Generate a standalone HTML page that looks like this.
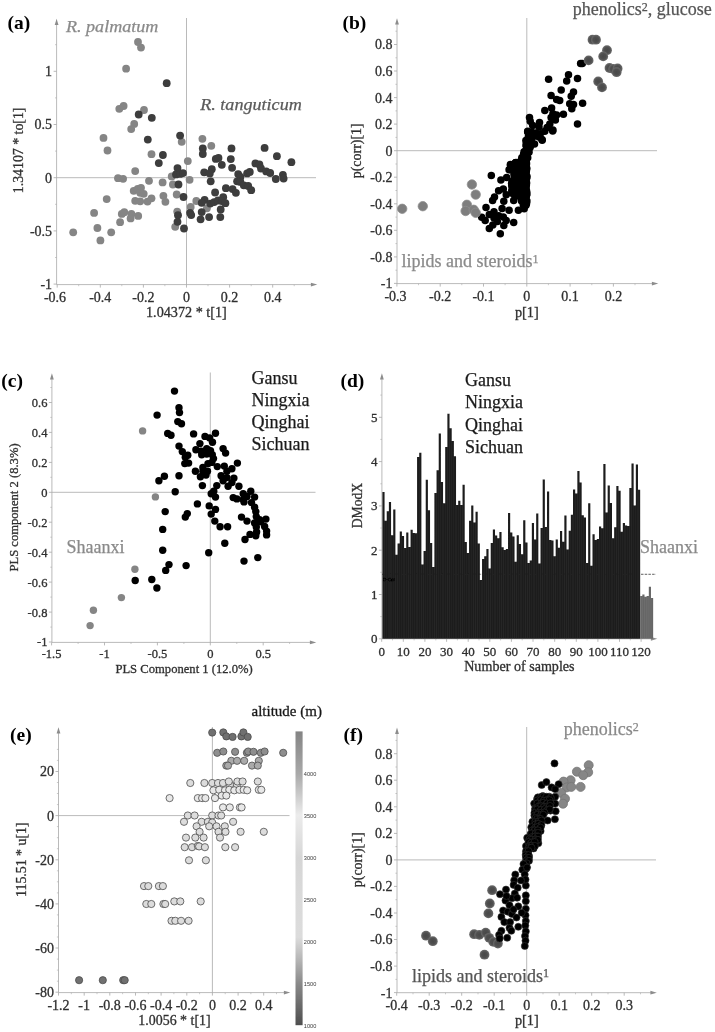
<!DOCTYPE html>
<html><head><meta charset="utf-8"><title>Figure</title>
<style>
html,body{margin:0;padding:0;background:#fff;}
body{width:715px;height:1032px;overflow:hidden;font-family:"Liberation Serif",serif;}
svg{display:block;font-family:"Liberation Serif",serif;}
</style></head><body>
<svg width="715" height="1032" viewBox="0 0 715 1032">
<rect width="715" height="1032" fill="#fff"/>
<defs><filter id="soft" x="0" y="0" width="715" height="1032" filterUnits="userSpaceOnUse"><feGaussianBlur stdDeviation="0.45"/></filter></defs>
<g filter="url(#soft)">
<text x="7.6" y="29.1" font-size="19.5" text-anchor="start" fill="#000" font-weight="bold">(a)</text>
<line x1="56.6" y1="23.5" x2="56.6" y2="284.6" stroke="#a8a8a8" stroke-width="0.8" />
<path d="M54.7 25.1 L56.6 18.7 L58.5 25.1 Z" fill="#8c8c8c"/>
<line x1="53.6" y1="71.3" x2="56.6" y2="71.3" stroke="#a8a8a8" stroke-width="0.8" />
<text x="52.1" y="76.2" font-size="14" text-anchor="end" fill="#303030" stroke="#303030" stroke-width="0.3">1</text>
<line x1="53.6" y1="124.5" x2="56.6" y2="124.5" stroke="#a8a8a8" stroke-width="0.8" />
<text x="52.1" y="129.4" font-size="14" text-anchor="end" fill="#303030" stroke="#303030" stroke-width="0.3">0.5</text>
<line x1="53.6" y1="177.7" x2="56.6" y2="177.7" stroke="#a8a8a8" stroke-width="0.8" />
<text x="52.1" y="182.6" font-size="14" text-anchor="end" fill="#303030" stroke="#303030" stroke-width="0.3">0</text>
<line x1="53.6" y1="230.9" x2="56.6" y2="230.9" stroke="#a8a8a8" stroke-width="0.8" />
<text x="52.1" y="235.8" font-size="14" text-anchor="end" fill="#303030" stroke="#303030" stroke-width="0.3">-0.5</text>
<line x1="53.6" y1="284.1" x2="56.6" y2="284.1" stroke="#a8a8a8" stroke-width="0.8" />
<text x="52.1" y="289.0" font-size="14" text-anchor="end" fill="#303030" stroke="#303030" stroke-width="0.3">-1</text>
<line x1="55.0" y1="257.5" x2="56.6" y2="257.5" stroke="#a8a8a8" stroke-width="0.6" />
<line x1="55.0" y1="204.3" x2="56.6" y2="204.3" stroke="#a8a8a8" stroke-width="0.6" />
<line x1="55.0" y1="151.1" x2="56.6" y2="151.1" stroke="#a8a8a8" stroke-width="0.6" />
<line x1="55.0" y1="97.9" x2="56.6" y2="97.9" stroke="#a8a8a8" stroke-width="0.6" />
<line x1="55.0" y1="44.7" x2="56.6" y2="44.7" stroke="#a8a8a8" stroke-width="0.6" />
<line x1="56.6" y1="284.6" x2="312.5" y2="284.6" stroke="#a8a8a8" stroke-width="0.8" />
<path d="M310.9 282.7 L317.3 284.6 L310.9 286.5 Z" fill="#8c8c8c"/>
<line x1="57.2" y1="284.6" x2="57.2" y2="287.6" stroke="#a8a8a8" stroke-width="0.8" />
<text x="55.0" y="301.6" font-size="14" text-anchor="middle" fill="#303030" stroke="#303030" stroke-width="0.3">-0.6</text>
<line x1="100.3" y1="284.6" x2="100.3" y2="287.6" stroke="#a8a8a8" stroke-width="0.8" />
<text x="100.3" y="301.6" font-size="14" text-anchor="middle" fill="#303030" stroke="#303030" stroke-width="0.3">-0.4</text>
<line x1="143.4" y1="284.6" x2="143.4" y2="287.6" stroke="#a8a8a8" stroke-width="0.8" />
<text x="143.4" y="301.6" font-size="14" text-anchor="middle" fill="#303030" stroke="#303030" stroke-width="0.3">-0.2</text>
<line x1="186.5" y1="284.6" x2="186.5" y2="287.6" stroke="#a8a8a8" stroke-width="0.8" />
<text x="186.5" y="301.6" font-size="14" text-anchor="middle" fill="#303030" stroke="#303030" stroke-width="0.3">0</text>
<line x1="229.6" y1="284.6" x2="229.6" y2="287.6" stroke="#a8a8a8" stroke-width="0.8" />
<text x="229.6" y="301.6" font-size="14" text-anchor="middle" fill="#303030" stroke="#303030" stroke-width="0.3">0.2</text>
<line x1="272.7" y1="284.6" x2="272.7" y2="287.6" stroke="#a8a8a8" stroke-width="0.8" />
<text x="272.7" y="301.6" font-size="14" text-anchor="middle" fill="#303030" stroke="#303030" stroke-width="0.3">0.4</text>
<line x1="78.7" y1="284.6" x2="78.7" y2="286.2" stroke="#a8a8a8" stroke-width="0.6" />
<line x1="121.8" y1="284.6" x2="121.8" y2="286.2" stroke="#a8a8a8" stroke-width="0.6" />
<line x1="164.9" y1="284.6" x2="164.9" y2="286.2" stroke="#a8a8a8" stroke-width="0.6" />
<line x1="208.0" y1="284.6" x2="208.0" y2="286.2" stroke="#a8a8a8" stroke-width="0.6" />
<line x1="251.2" y1="284.6" x2="251.2" y2="286.2" stroke="#a8a8a8" stroke-width="0.6" />
<line x1="294.2" y1="284.6" x2="294.2" y2="286.2" stroke="#a8a8a8" stroke-width="0.6" />
<line x1="56.6" y1="177.7" x2="316.0" y2="177.7" stroke="#a8a8a8" stroke-width="0.8" />
<line x1="186.5" y1="18.0" x2="186.5" y2="284.6" stroke="#a8a8a8" stroke-width="0.8" />
<text x="22.6" y="150.4" font-size="14" text-anchor="middle" fill="#303030" stroke="#303030" stroke-width="0.3" transform="rotate(-90 22.6 150.4)" textLength="85.6" lengthAdjust="spacingAndGlyphs">1.34107 * to[1]</text>
<text x="186.4" y="316.9" font-size="14" text-anchor="middle" fill="#303030" stroke="#303030" stroke-width="0.3" textLength="80.8" lengthAdjust="spacingAndGlyphs">1.04372 * t[1]</text>
<text x="66.0" y="31.5" font-size="16.5" text-anchor="start" fill="#8a8a8a" font-style="italic" stroke="#8a8a8a" stroke-width="0.25" textLength="92.4" lengthAdjust="spacingAndGlyphs">R. palmatum</text>
<text x="200.2" y="110.0" font-size="16.5" text-anchor="start" fill="#5a5a5a" font-style="italic" stroke="#5a5a5a" stroke-width="0.25" textLength="101.6" lengthAdjust="spacingAndGlyphs">R. tanguticum</text>
<g fill="#858585">
<circle cx="138.0" cy="42.0" r="3.9"/>
<circle cx="141.0" cy="47.6" r="3.9"/>
<circle cx="126.1" cy="68.7" r="3.9"/>
<circle cx="119.3" cy="108.8" r="3.9"/>
<circle cx="123.6" cy="106.0" r="3.9"/>
<circle cx="144.0" cy="110.0" r="3.9"/>
<circle cx="134.2" cy="123.9" r="3.9"/>
<circle cx="131.2" cy="129.1" r="3.9"/>
<circle cx="103.5" cy="137.9" r="3.9"/>
<circle cx="107.5" cy="150.5" r="3.9"/>
<circle cx="151.5" cy="154.2" r="3.9"/>
<circle cx="181.7" cy="141.8" r="3.9"/>
<circle cx="135.2" cy="171.1" r="3.9"/>
<circle cx="118.0" cy="178.2" r="3.9"/>
<circle cx="123.1" cy="178.8" r="3.9"/>
<circle cx="149.0" cy="180.8" r="3.9"/>
<circle cx="162.6" cy="182.4" r="3.9"/>
<circle cx="171.7" cy="176.4" r="3.9"/>
<circle cx="172.9" cy="184.5" r="3.9"/>
<circle cx="133.7" cy="190.8" r="3.9"/>
<circle cx="137.7" cy="188.8" r="3.9"/>
<circle cx="141.0" cy="187.8" r="3.9"/>
<circle cx="140.2" cy="192.8" r="3.9"/>
<circle cx="143.7" cy="193.8" r="3.9"/>
<circle cx="106.7" cy="199.1" r="3.9"/>
<circle cx="135.2" cy="200.8" r="3.9"/>
<circle cx="140.2" cy="201.3" r="3.9"/>
<circle cx="147.5" cy="201.6" r="3.9"/>
<circle cx="151.5" cy="198.3" r="3.9"/>
<circle cx="163.4" cy="195.8" r="3.9"/>
<circle cx="165.4" cy="201.8" r="3.9"/>
<circle cx="176.7" cy="194.5" r="3.9"/>
<circle cx="177.2" cy="211.6" r="3.9"/>
<circle cx="94.1" cy="212.9" r="3.9"/>
<circle cx="121.8" cy="213.9" r="3.9"/>
<circle cx="124.3" cy="212.2" r="3.9"/>
<circle cx="131.4" cy="213.9" r="3.9"/>
<circle cx="138.2" cy="215.9" r="3.9"/>
<circle cx="130.6" cy="218.4" r="3.9"/>
<circle cx="120.1" cy="222.2" r="3.9"/>
<circle cx="97.4" cy="228.0" r="3.9"/>
<circle cx="111.2" cy="232.3" r="3.9"/>
<circle cx="73.2" cy="232.3" r="3.9"/>
<circle cx="100.4" cy="240.4" r="3.9"/>
<circle cx="175.2" cy="226.8" r="3.9"/>
<circle cx="202.4" cy="138.8" r="3.9"/>
<circle cx="211.3" cy="145.8" r="3.9"/>
<circle cx="187.8" cy="161.1" r="3.9"/>
<circle cx="189.6" cy="179.8" r="3.9"/>
<circle cx="196.3" cy="201.0" r="3.9"/>
<circle cx="190.7" cy="207.0" r="3.9"/>
<circle cx="206.9" cy="208.3" r="3.9"/>
</g>
<g fill="#3c3c3c">
<circle cx="166.7" cy="83.2" r="3.9"/>
<circle cx="138.7" cy="114.5" r="3.9"/>
<circle cx="151.8" cy="117.8" r="3.9"/>
<circle cx="147.8" cy="139.6" r="3.9"/>
<circle cx="180.1" cy="135.6" r="3.9"/>
<circle cx="162.9" cy="155.0" r="3.9"/>
<circle cx="158.8" cy="163.1" r="3.9"/>
<circle cx="177.5" cy="168.1" r="3.9"/>
<circle cx="176.0" cy="174.4" r="3.9"/>
<circle cx="180.2" cy="173.9" r="3.9"/>
<circle cx="183.0" cy="173.1" r="3.9"/>
<circle cx="178.5" cy="184.5" r="3.9"/>
<circle cx="183.5" cy="197.0" r="3.9"/>
<circle cx="178.0" cy="215.2" r="3.9"/>
<circle cx="177.5" cy="221.8" r="3.9"/>
<circle cx="184.0" cy="228.5" r="3.9"/>
<circle cx="202.8" cy="148.4" r="3.9"/>
<circle cx="202.8" cy="154.0" r="3.9"/>
<circle cx="231.5" cy="148.4" r="3.9"/>
<circle cx="264.6" cy="147.9" r="3.9"/>
<circle cx="276.9" cy="156.2" r="3.9"/>
<circle cx="291.4" cy="162.2" r="3.9"/>
<circle cx="215.8" cy="158.9" r="3.9"/>
<circle cx="218.5" cy="158.0" r="3.9"/>
<circle cx="230.8" cy="159.1" r="3.9"/>
<circle cx="221.8" cy="164.8" r="3.9"/>
<circle cx="232.1" cy="167.8" r="3.9"/>
<circle cx="255.4" cy="163.4" r="3.9"/>
<circle cx="259.4" cy="164.5" r="3.9"/>
<circle cx="261.0" cy="168.5" r="3.9"/>
<circle cx="266.2" cy="171.4" r="3.9"/>
<circle cx="270.2" cy="173.0" r="3.9"/>
<circle cx="211.8" cy="169.2" r="3.9"/>
<circle cx="204.2" cy="172.3" r="3.9"/>
<circle cx="209.8" cy="173.4" r="3.9"/>
<circle cx="238.2" cy="174.1" r="3.9"/>
<circle cx="240.4" cy="177.0" r="3.9"/>
<circle cx="247.1" cy="173.4" r="3.9"/>
<circle cx="249.8" cy="171.9" r="3.9"/>
<circle cx="275.8" cy="179.0" r="3.9"/>
<circle cx="282.9" cy="174.8" r="3.9"/>
<circle cx="283.6" cy="178.6" r="3.9"/>
<circle cx="210.7" cy="181.3" r="3.9"/>
<circle cx="237.1" cy="181.3" r="3.9"/>
<circle cx="240.4" cy="181.9" r="3.9"/>
<circle cx="243.8" cy="185.3" r="3.9"/>
<circle cx="248.2" cy="186.0" r="3.9"/>
<circle cx="251.2" cy="190.2" r="3.9"/>
<circle cx="225.9" cy="188.2" r="3.9"/>
<circle cx="232.6" cy="189.1" r="3.9"/>
<circle cx="235.9" cy="192.8" r="3.9"/>
<circle cx="215.1" cy="192.5" r="3.9"/>
<circle cx="223.2" cy="197.2" r="3.9"/>
<circle cx="204.6" cy="199.8" r="3.9"/>
<circle cx="201.7" cy="202.8" r="3.9"/>
<circle cx="210.2" cy="203.6" r="3.9"/>
<circle cx="214.2" cy="202.1" r="3.9"/>
<circle cx="218.0" cy="200.5" r="3.9"/>
<circle cx="221.8" cy="201.0" r="3.9"/>
<circle cx="225.4" cy="203.2" r="3.9"/>
<circle cx="220.7" cy="209.5" r="3.9"/>
<circle cx="201.7" cy="212.1" r="3.9"/>
<circle cx="190.1" cy="212.8" r="3.9"/>
<circle cx="191.2" cy="215.1" r="3.9"/>
<circle cx="200.6" cy="219.3" r="3.9"/>
<circle cx="209.1" cy="217.1" r="3.9"/>
<circle cx="220.3" cy="217.1" r="3.9"/>
</g>
<text x="342.5" y="29.1" font-size="19.5" text-anchor="start" fill="#000" font-weight="bold">(b)</text>
<line x1="397.0" y1="23.0" x2="397.0" y2="283.6" stroke="#a8a8a8" stroke-width="0.8" />
<path d="M395.1 24.6 L397.0 18.2 L398.9 24.6 Z" fill="#8c8c8c"/>
<line x1="394.0" y1="44.5" x2="397.0" y2="44.5" stroke="#a8a8a8" stroke-width="0.8" />
<text x="392.5" y="49.4" font-size="14" text-anchor="end" fill="#303030" stroke="#303030" stroke-width="0.3">0.8</text>
<line x1="394.0" y1="71.0" x2="397.0" y2="71.0" stroke="#a8a8a8" stroke-width="0.8" />
<text x="392.5" y="75.9" font-size="14" text-anchor="end" fill="#303030" stroke="#303030" stroke-width="0.3">0.6</text>
<line x1="394.0" y1="97.6" x2="397.0" y2="97.6" stroke="#a8a8a8" stroke-width="0.8" />
<text x="392.5" y="102.5" font-size="14" text-anchor="end" fill="#303030" stroke="#303030" stroke-width="0.3">0.4</text>
<line x1="394.0" y1="124.1" x2="397.0" y2="124.1" stroke="#a8a8a8" stroke-width="0.8" />
<text x="392.5" y="129.0" font-size="14" text-anchor="end" fill="#303030" stroke="#303030" stroke-width="0.3">0.2</text>
<line x1="394.0" y1="150.7" x2="397.0" y2="150.7" stroke="#a8a8a8" stroke-width="0.8" />
<text x="392.5" y="155.6" font-size="14" text-anchor="end" fill="#303030" stroke="#303030" stroke-width="0.3">0</text>
<line x1="394.0" y1="177.2" x2="397.0" y2="177.2" stroke="#a8a8a8" stroke-width="0.8" />
<text x="392.5" y="182.2" font-size="14" text-anchor="end" fill="#303030" stroke="#303030" stroke-width="0.3">-0.2</text>
<line x1="394.0" y1="203.8" x2="397.0" y2="203.8" stroke="#a8a8a8" stroke-width="0.8" />
<text x="392.5" y="208.7" font-size="14" text-anchor="end" fill="#303030" stroke="#303030" stroke-width="0.3">-0.4</text>
<line x1="394.0" y1="230.3" x2="397.0" y2="230.3" stroke="#a8a8a8" stroke-width="0.8" />
<text x="392.5" y="235.2" font-size="14" text-anchor="end" fill="#303030" stroke="#303030" stroke-width="0.3">-0.6</text>
<line x1="394.0" y1="256.9" x2="397.0" y2="256.9" stroke="#a8a8a8" stroke-width="0.8" />
<text x="392.5" y="261.8" font-size="14" text-anchor="end" fill="#303030" stroke="#303030" stroke-width="0.3">-0.8</text>
<line x1="394.0" y1="283.4" x2="397.0" y2="283.4" stroke="#a8a8a8" stroke-width="0.8" />
<text x="392.5" y="288.3" font-size="14" text-anchor="end" fill="#303030" stroke="#303030" stroke-width="0.3">-1</text>
<line x1="395.4" y1="270.2" x2="397.0" y2="270.2" stroke="#a8a8a8" stroke-width="0.6" />
<line x1="395.4" y1="243.6" x2="397.0" y2="243.6" stroke="#a8a8a8" stroke-width="0.6" />
<line x1="395.4" y1="217.1" x2="397.0" y2="217.1" stroke="#a8a8a8" stroke-width="0.6" />
<line x1="395.4" y1="190.5" x2="397.0" y2="190.5" stroke="#a8a8a8" stroke-width="0.6" />
<line x1="395.4" y1="164.0" x2="397.0" y2="164.0" stroke="#a8a8a8" stroke-width="0.6" />
<line x1="395.4" y1="137.4" x2="397.0" y2="137.4" stroke="#a8a8a8" stroke-width="0.6" />
<line x1="395.4" y1="110.9" x2="397.0" y2="110.9" stroke="#a8a8a8" stroke-width="0.6" />
<line x1="395.4" y1="84.3" x2="397.0" y2="84.3" stroke="#a8a8a8" stroke-width="0.6" />
<line x1="395.4" y1="57.8" x2="397.0" y2="57.8" stroke="#a8a8a8" stroke-width="0.6" />
<line x1="395.4" y1="31.2" x2="397.0" y2="31.2" stroke="#a8a8a8" stroke-width="0.6" />
<line x1="397.0" y1="283.6" x2="653.5" y2="283.6" stroke="#a8a8a8" stroke-width="0.8" />
<path d="M651.9 281.7 L658.3 283.6 L651.9 285.5 Z" fill="#8c8c8c"/>
<line x1="396.9" y1="283.6" x2="396.9" y2="286.6" stroke="#a8a8a8" stroke-width="0.8" />
<text x="395.5" y="300.6" font-size="14" text-anchor="middle" fill="#303030" stroke="#303030" stroke-width="0.3">-0.3</text>
<line x1="440.2" y1="283.6" x2="440.2" y2="286.6" stroke="#a8a8a8" stroke-width="0.8" />
<text x="440.2" y="300.6" font-size="14" text-anchor="middle" fill="#303030" stroke="#303030" stroke-width="0.3">-0.2</text>
<line x1="483.5" y1="283.6" x2="483.5" y2="286.6" stroke="#a8a8a8" stroke-width="0.8" />
<text x="483.5" y="300.6" font-size="14" text-anchor="middle" fill="#303030" stroke="#303030" stroke-width="0.3">-0.1</text>
<line x1="526.8" y1="283.6" x2="526.8" y2="286.6" stroke="#a8a8a8" stroke-width="0.8" />
<text x="526.8" y="300.6" font-size="14" text-anchor="middle" fill="#303030" stroke="#303030" stroke-width="0.3">0</text>
<line x1="570.1" y1="283.6" x2="570.1" y2="286.6" stroke="#a8a8a8" stroke-width="0.8" />
<text x="570.1" y="300.6" font-size="14" text-anchor="middle" fill="#303030" stroke="#303030" stroke-width="0.3">0.1</text>
<line x1="613.4" y1="283.6" x2="613.4" y2="286.6" stroke="#a8a8a8" stroke-width="0.8" />
<text x="613.4" y="300.6" font-size="14" text-anchor="middle" fill="#303030" stroke="#303030" stroke-width="0.3">0.2</text>
<line x1="418.5" y1="283.6" x2="418.5" y2="285.2" stroke="#a8a8a8" stroke-width="0.6" />
<line x1="461.8" y1="283.6" x2="461.8" y2="285.2" stroke="#a8a8a8" stroke-width="0.6" />
<line x1="505.1" y1="283.6" x2="505.1" y2="285.2" stroke="#a8a8a8" stroke-width="0.6" />
<line x1="548.4" y1="283.6" x2="548.4" y2="285.2" stroke="#a8a8a8" stroke-width="0.6" />
<line x1="591.8" y1="283.6" x2="591.8" y2="285.2" stroke="#a8a8a8" stroke-width="0.6" />
<line x1="635.0" y1="283.6" x2="635.0" y2="285.2" stroke="#a8a8a8" stroke-width="0.6" />
<line x1="397.0" y1="150.7" x2="657.0" y2="150.7" stroke="#a8a8a8" stroke-width="0.8" />
<line x1="526.8" y1="18.0" x2="526.8" y2="283.6" stroke="#a8a8a8" stroke-width="0.8" />
<text x="361.3" y="150.8" font-size="14" text-anchor="middle" fill="#303030" stroke="#303030" stroke-width="0.3" transform="rotate(-90 361.3 150.8)" textLength="55.0" lengthAdjust="spacingAndGlyphs">p(corr)[1]</text>
<text x="526.8" y="316.9" font-size="14" text-anchor="middle" fill="#303030" stroke="#303030" stroke-width="0.3" textLength="23.8" lengthAdjust="spacingAndGlyphs">p[1]</text>
<text x="572.8" y="14.9" font-size="18" text-anchor="start" fill="#555" stroke="#555" stroke-width="0.25">phenolics<tspan font-size="12" dy="-4.3">2</tspan><tspan dy="4.3">, glucose</tspan></text>
<text x="401.5" y="267.2" font-size="18" text-anchor="start" fill="#8a8a8a" stroke="#8a8a8a" stroke-width="0.25">lipids and steroids<tspan font-size="12" dy="-4.3">1</tspan></text>
<g fill="#050505">
<circle cx="580.6" cy="63.4" r="3.75"/>
<circle cx="582.3" cy="63.4" r="3.75"/>
<circle cx="548.6" cy="79.2" r="3.75"/>
<circle cx="568.5" cy="74.8" r="3.75"/>
<circle cx="577.5" cy="78.5" r="3.75"/>
<circle cx="566.7" cy="81.0" r="3.75"/>
<circle cx="561.2" cy="89.9" r="3.75"/>
<circle cx="573.5" cy="91.9" r="3.75"/>
<circle cx="551.1" cy="95.4" r="3.75"/>
<circle cx="571.2" cy="96.2" r="3.75"/>
<circle cx="556.6" cy="99.4" r="3.75"/>
<circle cx="559.7" cy="100.4" r="3.75"/>
<circle cx="569.7" cy="103.7" r="3.75"/>
<circle cx="573.5" cy="104.5" r="3.75"/>
<circle cx="582.6" cy="103.2" r="3.75"/>
<circle cx="571.8" cy="108.8" r="3.75"/>
<circle cx="551.6" cy="108.0" r="3.75"/>
<circle cx="544.8" cy="110.5" r="3.75"/>
<circle cx="552.9" cy="113.8" r="3.75"/>
<circle cx="556.6" cy="115.0" r="3.75"/>
<circle cx="563.4" cy="114.2" r="3.75"/>
<circle cx="551.1" cy="117.5" r="3.75"/>
<circle cx="555.4" cy="120.0" r="3.75"/>
<circle cx="577.5" cy="123.9" r="3.75"/>
<circle cx="529.5" cy="117.5" r="3.75"/>
<circle cx="530.2" cy="121.2" r="3.75"/>
<circle cx="539.5" cy="122.5" r="3.75"/>
<circle cx="549.8" cy="123.9" r="3.75"/>
<circle cx="532.7" cy="125.5" r="3.75"/>
<circle cx="539.0" cy="127.0" r="3.75"/>
<circle cx="547.1" cy="127.5" r="3.75"/>
<circle cx="552.9" cy="130.1" r="3.75"/>
<circle cx="527.7" cy="131.3" r="3.75"/>
<circle cx="531.5" cy="132.1" r="3.75"/>
<circle cx="536.0" cy="133.1" r="3.75"/>
<circle cx="540.3" cy="133.8" r="3.75"/>
<circle cx="544.8" cy="131.3" r="3.75"/>
<circle cx="528.4" cy="136.4" r="3.75"/>
<circle cx="533.5" cy="136.4" r="3.75"/>
<circle cx="539.0" cy="137.1" r="3.75"/>
<circle cx="542.0" cy="139.6" r="3.75"/>
<circle cx="527.2" cy="141.4" r="3.75"/>
<circle cx="531.5" cy="141.9" r="3.75"/>
<circle cx="534.5" cy="143.9" r="3.75"/>
<circle cx="526.4" cy="146.4" r="3.75"/>
<circle cx="530.2" cy="147.2" r="3.75"/>
<circle cx="525.2" cy="151.4" r="3.75"/>
<circle cx="529.0" cy="152.2" r="3.75"/>
<circle cx="524.4" cy="156.5" r="3.75"/>
<circle cx="527.7" cy="157.8" r="3.75"/>
<circle cx="523.9" cy="161.5" r="3.75"/>
<circle cx="526.4" cy="162.8" r="3.75"/>
<circle cx="510.6" cy="165.3" r="3.75"/>
<circle cx="515.6" cy="162.8" r="3.75"/>
<circle cx="522.7" cy="166.6" r="3.75"/>
<circle cx="525.2" cy="167.8" r="3.75"/>
<circle cx="510.4" cy="164.4" r="3.75"/>
<circle cx="516.0" cy="162.6" r="3.75"/>
<circle cx="509.7" cy="169.4" r="3.75"/>
<circle cx="491.3" cy="175.4" r="3.75"/>
<circle cx="500.9" cy="180.1" r="3.75"/>
<circle cx="498.6" cy="190.8" r="3.75"/>
<circle cx="494.5" cy="197.1" r="3.75"/>
<circle cx="492.6" cy="200.6" r="3.75"/>
<circle cx="503.8" cy="201.2" r="3.75"/>
<circle cx="513.7" cy="200.6" r="3.75"/>
<circle cx="486.0" cy="207.6" r="3.75"/>
<circle cx="502.1" cy="208.4" r="3.75"/>
<circle cx="509.1" cy="210.3" r="3.75"/>
<circle cx="518.4" cy="210.3" r="3.75"/>
<circle cx="524.2" cy="208.8" r="3.75"/>
<circle cx="494.0" cy="211.8" r="3.75"/>
<circle cx="489.3" cy="214.6" r="3.75"/>
<circle cx="481.7" cy="217.3" r="3.75"/>
<circle cx="485.2" cy="220.4" r="3.75"/>
<circle cx="494.0" cy="218.1" r="3.75"/>
<circle cx="498.6" cy="215.8" r="3.75"/>
<circle cx="503.3" cy="216.9" r="3.75"/>
<circle cx="506.2" cy="220.4" r="3.75"/>
<circle cx="513.7" cy="222.4" r="3.75"/>
<circle cx="503.8" cy="225.6" r="3.75"/>
<circle cx="492.8" cy="225.1" r="3.75"/>
<circle cx="489.3" cy="228.5" r="3.75"/>
<circle cx="500.3" cy="233.8" r="3.75"/>
<circle cx="497.4" cy="221.6" r="3.75"/>
<circle cx="510.8" cy="165.2" r="3.75"/>
<circle cx="515.5" cy="162.8" r="3.75"/>
<circle cx="509.1" cy="169.8" r="3.75"/>
<circle cx="506.7" cy="177.4" r="3.75"/>
<circle cx="503.3" cy="189.0" r="3.75"/>
<circle cx="506.2" cy="194.8" r="3.75"/>
<circle cx="527.7" cy="132.0" r="3.75"/>
<circle cx="542.2" cy="140.2" r="3.75"/>
<circle cx="552.7" cy="130.9" r="3.75"/>
<circle cx="527.7" cy="141.3" r="3.75"/>
<circle cx="525.9" cy="140.5" r="3.75"/>
<circle cx="528.5" cy="140.6" r="3.75"/>
<circle cx="526.5" cy="142.2" r="3.75"/>
<circle cx="528.0" cy="143.3" r="3.75"/>
<circle cx="526.0" cy="144.9" r="3.75"/>
<circle cx="529.4" cy="145.2" r="3.75"/>
<circle cx="526.8" cy="147.6" r="3.75"/>
<circle cx="528.9" cy="147.2" r="3.75"/>
<circle cx="526.5" cy="150.6" r="3.75"/>
<circle cx="528.7" cy="150.4" r="3.75"/>
<circle cx="524.1" cy="151.8" r="3.75"/>
<circle cx="526.7" cy="152.6" r="3.75"/>
<circle cx="523.6" cy="154.2" r="3.75"/>
<circle cx="526.8" cy="154.8" r="3.75"/>
<circle cx="521.8" cy="157.8" r="3.75"/>
<circle cx="524.2" cy="157.8" r="3.75"/>
<circle cx="526.2" cy="157.7" r="3.75"/>
<circle cx="521.4" cy="160.3" r="3.75"/>
<circle cx="524.4" cy="159.1" r="3.75"/>
<circle cx="525.8" cy="159.3" r="3.75"/>
<circle cx="519.8" cy="162.0" r="3.75"/>
<circle cx="521.7" cy="161.8" r="3.75"/>
<circle cx="523.9" cy="161.9" r="3.75"/>
<circle cx="526.1" cy="162.2" r="3.75"/>
<circle cx="519.2" cy="165.0" r="3.75"/>
<circle cx="521.8" cy="165.1" r="3.75"/>
<circle cx="524.4" cy="165.1" r="3.75"/>
<circle cx="526.5" cy="164.0" r="3.75"/>
<circle cx="517.2" cy="167.5" r="3.75"/>
<circle cx="519.7" cy="166.9" r="3.75"/>
<circle cx="521.8" cy="166.4" r="3.75"/>
<circle cx="524.4" cy="167.0" r="3.75"/>
<circle cx="526.0" cy="166.2" r="3.75"/>
<circle cx="517.2" cy="169.9" r="3.75"/>
<circle cx="518.5" cy="169.7" r="3.75"/>
<circle cx="521.4" cy="168.8" r="3.75"/>
<circle cx="523.6" cy="169.6" r="3.75"/>
<circle cx="526.8" cy="168.6" r="3.75"/>
<circle cx="514.5" cy="171.0" r="3.75"/>
<circle cx="517.0" cy="171.4" r="3.75"/>
<circle cx="519.6" cy="172.3" r="3.75"/>
<circle cx="521.5" cy="172.3" r="3.75"/>
<circle cx="523.6" cy="171.1" r="3.75"/>
<circle cx="526.4" cy="171.0" r="3.75"/>
<circle cx="513.9" cy="173.9" r="3.75"/>
<circle cx="516.9" cy="173.6" r="3.75"/>
<circle cx="518.5" cy="174.6" r="3.75"/>
<circle cx="521.2" cy="174.7" r="3.75"/>
<circle cx="524.5" cy="173.9" r="3.75"/>
<circle cx="526.2" cy="174.1" r="3.75"/>
<circle cx="514.5" cy="176.6" r="3.75"/>
<circle cx="516.8" cy="176.6" r="3.75"/>
<circle cx="519.7" cy="176.5" r="3.75"/>
<circle cx="521.4" cy="176.8" r="3.75"/>
<circle cx="523.5" cy="176.2" r="3.75"/>
<circle cx="527.0" cy="176.5" r="3.75"/>
<circle cx="514.4" cy="178.2" r="3.75"/>
<circle cx="516.6" cy="179.0" r="3.75"/>
<circle cx="518.4" cy="179.0" r="3.75"/>
<circle cx="521.7" cy="178.2" r="3.75"/>
<circle cx="524.1" cy="178.8" r="3.75"/>
<circle cx="526.6" cy="178.6" r="3.75"/>
<circle cx="512.2" cy="181.6" r="3.75"/>
<circle cx="513.6" cy="180.6" r="3.75"/>
<circle cx="516.9" cy="181.9" r="3.75"/>
<circle cx="518.8" cy="181.2" r="3.75"/>
<circle cx="521.6" cy="181.0" r="3.75"/>
<circle cx="523.7" cy="181.0" r="3.75"/>
<circle cx="526.1" cy="181.4" r="3.75"/>
<circle cx="511.6" cy="183.5" r="3.75"/>
<circle cx="514.7" cy="183.0" r="3.75"/>
<circle cx="516.8" cy="184.0" r="3.75"/>
<circle cx="518.8" cy="183.3" r="3.75"/>
<circle cx="521.9" cy="183.3" r="3.75"/>
<circle cx="523.5" cy="183.6" r="3.75"/>
<circle cx="526.6" cy="183.1" r="3.75"/>
<circle cx="511.7" cy="185.8" r="3.75"/>
<circle cx="514.8" cy="186.0" r="3.75"/>
<circle cx="517.2" cy="185.6" r="3.75"/>
<circle cx="518.9" cy="186.3" r="3.75"/>
<circle cx="522.0" cy="186.0" r="3.75"/>
<circle cx="523.5" cy="185.5" r="3.75"/>
<circle cx="526.3" cy="185.6" r="3.75"/>
<circle cx="512.3" cy="188.9" r="3.75"/>
<circle cx="513.9" cy="188.1" r="3.75"/>
<circle cx="517.1" cy="188.6" r="3.75"/>
<circle cx="519.5" cy="188.2" r="3.75"/>
<circle cx="521.0" cy="188.2" r="3.75"/>
<circle cx="524.3" cy="188.1" r="3.75"/>
<circle cx="526.1" cy="188.3" r="3.75"/>
<circle cx="511.8" cy="190.7" r="3.75"/>
<circle cx="514.9" cy="190.4" r="3.75"/>
<circle cx="516.0" cy="191.5" r="3.75"/>
<circle cx="519.6" cy="191.5" r="3.75"/>
<circle cx="521.4" cy="191.5" r="3.75"/>
<circle cx="524.5" cy="190.5" r="3.75"/>
<circle cx="526.6" cy="191.3" r="3.75"/>
<circle cx="512.1" cy="193.3" r="3.75"/>
<circle cx="514.0" cy="193.0" r="3.75"/>
<circle cx="516.3" cy="192.6" r="3.75"/>
<circle cx="519.2" cy="193.0" r="3.75"/>
<circle cx="521.9" cy="192.6" r="3.75"/>
<circle cx="524.5" cy="193.5" r="3.75"/>
<circle cx="526.9" cy="193.8" r="3.75"/>
<circle cx="514.9" cy="195.8" r="3.75"/>
<circle cx="516.0" cy="196.0" r="3.75"/>
<circle cx="518.6" cy="195.4" r="3.75"/>
<circle cx="521.7" cy="195.7" r="3.75"/>
<circle cx="523.8" cy="196.3" r="3.75"/>
<circle cx="526.5" cy="195.4" r="3.75"/>
<circle cx="521.2" cy="198.6" r="3.75"/>
<circle cx="523.9" cy="198.4" r="3.75"/>
<circle cx="526.1" cy="197.6" r="3.75"/>
<circle cx="521.5" cy="200.9" r="3.75"/>
<circle cx="523.4" cy="200.9" r="3.75"/>
<circle cx="526.9" cy="200.9" r="3.75"/>
<circle cx="524.4" cy="202.2" r="3.75"/>
<circle cx="526.5" cy="203.4" r="3.75"/>
<circle cx="523.3" cy="204.9" r="3.75"/>
<circle cx="526.0" cy="205.3" r="3.75"/>
</g>
<defs><radialGradient id="dg"><stop offset="0" stop-color="#484848"/><stop offset="0.6" stop-color="#505050"/><stop offset="1" stop-color="#6c6c6c"/></radialGradient></defs>
<g fill="url(#dg)">
<circle cx="592.5" cy="39.7" r="4.9"/>
<circle cx="596.0" cy="39.7" r="4.9"/>
<circle cx="607.0" cy="50.2" r="4.9"/>
<circle cx="603.2" cy="56.4" r="4.9"/>
<circle cx="588.6" cy="60.4" r="4.9"/>
<circle cx="609.5" cy="68.0" r="4.9"/>
<circle cx="613.3" cy="69.0" r="4.9"/>
<circle cx="617.6" cy="68.5" r="4.9"/>
<circle cx="616.6" cy="72.2" r="4.9"/>
<circle cx="598.2" cy="81.5" r="4.9"/>
<circle cx="602.0" cy="87.4" r="4.9"/>
</g>
<g fill="#7e7e7e" stroke="#8e8e8e" stroke-width="0.8">
<circle cx="402.2" cy="208.8" r="4.7"/>
<circle cx="422.8" cy="206.2" r="4.7"/>
<circle cx="471.9" cy="184.5" r="4.7"/>
<circle cx="475.7" cy="194.6" r="4.7"/>
<circle cx="466.9" cy="204.8" r="4.7"/>
<circle cx="465.6" cy="211.0" r="4.7"/>
<circle cx="473.7" cy="209.8" r="4.7"/>
<circle cx="475.7" cy="212.8" r="4.7"/>
</g>
<text x="1.3" y="387.2" font-size="19.5" text-anchor="start" fill="#000" font-weight="bold">(c)</text>
<line x1="51.9" y1="378.0" x2="51.9" y2="642.4" stroke="#a8a8a8" stroke-width="0.8" />
<path d="M50.0 379.6 L51.9 373.2 L53.8 379.6 Z" fill="#8c8c8c"/>
<line x1="48.9" y1="402.5" x2="51.9" y2="402.5" stroke="#a8a8a8" stroke-width="0.8" />
<text x="47.4" y="406.8" font-size="12.5" text-anchor="end" fill="#303030" stroke="#303030" stroke-width="0.3">0.6</text>
<line x1="48.9" y1="432.4" x2="51.9" y2="432.4" stroke="#a8a8a8" stroke-width="0.8" />
<text x="47.4" y="436.8" font-size="12.5" text-anchor="end" fill="#303030" stroke="#303030" stroke-width="0.3">0.4</text>
<line x1="48.9" y1="462.4" x2="51.9" y2="462.4" stroke="#a8a8a8" stroke-width="0.8" />
<text x="47.4" y="466.7" font-size="12.5" text-anchor="end" fill="#303030" stroke="#303030" stroke-width="0.3">0.2</text>
<line x1="48.9" y1="492.3" x2="51.9" y2="492.3" stroke="#a8a8a8" stroke-width="0.8" />
<text x="47.4" y="496.7" font-size="12.5" text-anchor="end" fill="#303030" stroke="#303030" stroke-width="0.3">0</text>
<line x1="48.9" y1="522.2" x2="51.9" y2="522.2" stroke="#a8a8a8" stroke-width="0.8" />
<text x="47.4" y="526.6" font-size="12.5" text-anchor="end" fill="#303030" stroke="#303030" stroke-width="0.3">-0.2</text>
<line x1="48.9" y1="552.2" x2="51.9" y2="552.2" stroke="#a8a8a8" stroke-width="0.8" />
<text x="47.4" y="556.6" font-size="12.5" text-anchor="end" fill="#303030" stroke="#303030" stroke-width="0.3">-0.4</text>
<line x1="48.9" y1="582.1" x2="51.9" y2="582.1" stroke="#a8a8a8" stroke-width="0.8" />
<text x="47.4" y="586.5" font-size="12.5" text-anchor="end" fill="#303030" stroke="#303030" stroke-width="0.3">-0.6</text>
<line x1="48.9" y1="612.1" x2="51.9" y2="612.1" stroke="#a8a8a8" stroke-width="0.8" />
<text x="47.4" y="616.5" font-size="12.5" text-anchor="end" fill="#303030" stroke="#303030" stroke-width="0.3">-0.8</text>
<line x1="48.9" y1="642.0" x2="51.9" y2="642.0" stroke="#a8a8a8" stroke-width="0.8" />
<text x="47.4" y="646.4" font-size="12.5" text-anchor="end" fill="#303030" stroke="#303030" stroke-width="0.3">-1</text>
<line x1="50.3" y1="627.1" x2="51.9" y2="627.1" stroke="#a8a8a8" stroke-width="0.6" />
<line x1="50.3" y1="597.1" x2="51.9" y2="597.1" stroke="#a8a8a8" stroke-width="0.6" />
<line x1="50.3" y1="567.2" x2="51.9" y2="567.2" stroke="#a8a8a8" stroke-width="0.6" />
<line x1="50.3" y1="537.2" x2="51.9" y2="537.2" stroke="#a8a8a8" stroke-width="0.6" />
<line x1="50.3" y1="507.3" x2="51.9" y2="507.3" stroke="#a8a8a8" stroke-width="0.6" />
<line x1="50.3" y1="477.3" x2="51.9" y2="477.3" stroke="#a8a8a8" stroke-width="0.6" />
<line x1="50.3" y1="447.4" x2="51.9" y2="447.4" stroke="#a8a8a8" stroke-width="0.6" />
<line x1="50.3" y1="417.4" x2="51.9" y2="417.4" stroke="#a8a8a8" stroke-width="0.6" />
<line x1="50.3" y1="387.5" x2="51.9" y2="387.5" stroke="#a8a8a8" stroke-width="0.6" />
<line x1="51.9" y1="642.4" x2="311.5" y2="642.4" stroke="#a8a8a8" stroke-width="0.8" />
<path d="M309.9 640.5 L316.3 642.4 L309.9 644.3 Z" fill="#8c8c8c"/>
<line x1="51.6" y1="642.4" x2="51.6" y2="645.4" stroke="#a8a8a8" stroke-width="0.8" />
<text x="51.6" y="658.2" font-size="12.5" text-anchor="middle" fill="#303030" stroke="#303030" stroke-width="0.3">-1.5</text>
<line x1="104.5" y1="642.4" x2="104.5" y2="645.4" stroke="#a8a8a8" stroke-width="0.8" />
<text x="104.5" y="658.2" font-size="12.5" text-anchor="middle" fill="#303030" stroke="#303030" stroke-width="0.3">-1</text>
<line x1="157.4" y1="642.4" x2="157.4" y2="645.4" stroke="#a8a8a8" stroke-width="0.8" />
<text x="157.4" y="658.2" font-size="12.5" text-anchor="middle" fill="#303030" stroke="#303030" stroke-width="0.3">-0.5</text>
<line x1="210.3" y1="642.4" x2="210.3" y2="645.4" stroke="#a8a8a8" stroke-width="0.8" />
<text x="210.3" y="658.2" font-size="12.5" text-anchor="middle" fill="#303030" stroke="#303030" stroke-width="0.3">0</text>
<line x1="263.2" y1="642.4" x2="263.2" y2="645.4" stroke="#a8a8a8" stroke-width="0.8" />
<text x="263.2" y="658.2" font-size="12.5" text-anchor="middle" fill="#303030" stroke="#303030" stroke-width="0.3">0.5</text>
<line x1="78.1" y1="642.4" x2="78.1" y2="644.0" stroke="#a8a8a8" stroke-width="0.6" />
<line x1="131.0" y1="642.4" x2="131.0" y2="644.0" stroke="#a8a8a8" stroke-width="0.6" />
<line x1="183.9" y1="642.4" x2="183.9" y2="644.0" stroke="#a8a8a8" stroke-width="0.6" />
<line x1="236.8" y1="642.4" x2="236.8" y2="644.0" stroke="#a8a8a8" stroke-width="0.6" />
<line x1="289.6" y1="642.4" x2="289.6" y2="644.0" stroke="#a8a8a8" stroke-width="0.6" />
<line x1="51.9" y1="492.3" x2="315.5" y2="492.3" stroke="#a8a8a8" stroke-width="0.8" />
<line x1="210.3" y1="372.5" x2="210.3" y2="642.4" stroke="#a8a8a8" stroke-width="0.8" />
<text x="18.4" y="507.5" font-size="13" text-anchor="middle" fill="#303030" stroke="#303030" stroke-width="0.3" transform="rotate(-90 18.4 507.5)" textLength="128.2" lengthAdjust="spacingAndGlyphs">PLS component 2 (8.3%)</text>
<text x="184.1" y="672.7" font-size="13" text-anchor="middle" fill="#303030" stroke="#303030" stroke-width="0.3" textLength="137.4" lengthAdjust="spacingAndGlyphs">PLS Component 1 (12.0%)</text>
<text x="251.5" y="383.9" font-size="18" text-anchor="start" fill="#1a1a1a" stroke="#1a1a1a" stroke-width="0.25">Gansu</text>
<text x="251.5" y="405.9" font-size="18" text-anchor="start" fill="#1a1a1a" stroke="#1a1a1a" stroke-width="0.25">Ningxia</text>
<text x="251.5" y="427.9" font-size="18" text-anchor="start" fill="#1a1a1a" stroke="#1a1a1a" stroke-width="0.25">Qinghai</text>
<text x="251.5" y="449.9" font-size="18" text-anchor="start" fill="#1a1a1a" stroke="#1a1a1a" stroke-width="0.25">Sichuan</text>
<text x="66.5" y="552.8" font-size="18" text-anchor="start" fill="#8a8a8a" stroke="#8a8a8a" stroke-width="0.25">Shaanxi</text>
<g fill="#050505">
<circle cx="174.5" cy="391.1" r="3.7"/>
<circle cx="157.1" cy="415.1" r="3.7"/>
<circle cx="179.0" cy="407.8" r="3.7"/>
<circle cx="179.5" cy="412.6" r="3.7"/>
<circle cx="177.8" cy="421.6" r="3.7"/>
<circle cx="181.5" cy="423.8" r="3.7"/>
<circle cx="167.7" cy="433.4" r="3.7"/>
<circle cx="171.0" cy="435.2" r="3.7"/>
<circle cx="193.6" cy="433.9" r="3.7"/>
<circle cx="205.0" cy="436.4" r="3.7"/>
<circle cx="209.7" cy="437.9" r="3.7"/>
<circle cx="215.5" cy="433.2" r="3.7"/>
<circle cx="212.5" cy="442.2" r="3.7"/>
<circle cx="199.9" cy="443.6" r="3.7"/>
<circle cx="179.0" cy="446.1" r="3.7"/>
<circle cx="195.9" cy="449.8" r="3.7"/>
<circle cx="201.2" cy="451.1" r="3.7"/>
<circle cx="206.7" cy="448.6" r="3.7"/>
<circle cx="210.5" cy="450.6" r="3.7"/>
<circle cx="223.1" cy="448.6" r="3.7"/>
<circle cx="225.6" cy="453.1" r="3.7"/>
<circle cx="182.3" cy="451.6" r="3.7"/>
<circle cx="187.8" cy="455.3" r="3.7"/>
<circle cx="185.3" cy="457.3" r="3.7"/>
<circle cx="201.7" cy="454.8" r="3.7"/>
<circle cx="206.7" cy="454.1" r="3.7"/>
<circle cx="212.3" cy="454.8" r="3.7"/>
<circle cx="213.5" cy="458.6" r="3.7"/>
<circle cx="184.8" cy="463.6" r="3.7"/>
<circle cx="188.6" cy="463.1" r="3.7"/>
<circle cx="208.0" cy="463.6" r="3.7"/>
<circle cx="211.8" cy="462.4" r="3.7"/>
<circle cx="237.4" cy="463.1" r="3.7"/>
<circle cx="202.9" cy="467.4" r="3.7"/>
<circle cx="217.3" cy="466.6" r="3.7"/>
<circle cx="224.3" cy="466.1" r="3.7"/>
<circle cx="231.9" cy="468.8" r="3.7"/>
<circle cx="195.4" cy="471.2" r="3.7"/>
<circle cx="202.9" cy="471.2" r="3.7"/>
<circle cx="207.5" cy="471.2" r="3.7"/>
<circle cx="226.9" cy="471.2" r="3.7"/>
<circle cx="179.0" cy="475.8" r="3.7"/>
<circle cx="164.4" cy="476.2" r="3.7"/>
<circle cx="158.9" cy="480.8" r="3.7"/>
<circle cx="200.4" cy="476.8" r="3.7"/>
<circle cx="206.0" cy="475.1" r="3.7"/>
<circle cx="221.1" cy="475.8" r="3.7"/>
<circle cx="226.9" cy="477.6" r="3.7"/>
<circle cx="233.9" cy="478.1" r="3.7"/>
<circle cx="223.1" cy="480.8" r="3.7"/>
<circle cx="231.9" cy="482.6" r="3.7"/>
<circle cx="202.4" cy="485.6" r="3.7"/>
<circle cx="216.8" cy="485.6" r="3.7"/>
<circle cx="228.1" cy="486.3" r="3.7"/>
<circle cx="238.9" cy="486.3" r="3.7"/>
<circle cx="175.2" cy="491.8" r="3.7"/>
<circle cx="213.8" cy="491.3" r="3.7"/>
<circle cx="211.2" cy="493.8" r="3.7"/>
<circle cx="215.5" cy="497.1" r="3.7"/>
<circle cx="250.8" cy="491.3" r="3.7"/>
<circle cx="243.2" cy="493.8" r="3.7"/>
<circle cx="247.0" cy="496.4" r="3.7"/>
<circle cx="254.6" cy="497.1" r="3.7"/>
<circle cx="233.2" cy="497.6" r="3.7"/>
<circle cx="236.9" cy="498.9" r="3.7"/>
<circle cx="243.2" cy="499.6" r="3.7"/>
<circle cx="244.0" cy="501.9" r="3.7"/>
<circle cx="251.5" cy="502.6" r="3.7"/>
<circle cx="197.4" cy="503.9" r="3.7"/>
<circle cx="209.2" cy="505.9" r="3.7"/>
<circle cx="215.5" cy="509.4" r="3.7"/>
<circle cx="254.6" cy="507.2" r="3.7"/>
<circle cx="255.8" cy="511.6" r="3.7"/>
<circle cx="165.2" cy="511.6" r="3.7"/>
<circle cx="187.3" cy="513.6" r="3.7"/>
<circle cx="185.3" cy="517.1" r="3.7"/>
<circle cx="211.2" cy="514.1" r="3.7"/>
<circle cx="214.8" cy="521.1" r="3.7"/>
<circle cx="241.5" cy="517.1" r="3.7"/>
<circle cx="247.0" cy="521.1" r="3.7"/>
<circle cx="256.3" cy="516.6" r="3.7"/>
<circle cx="259.6" cy="519.6" r="3.7"/>
<circle cx="265.9" cy="519.1" r="3.7"/>
<circle cx="254.6" cy="522.9" r="3.7"/>
<circle cx="220.1" cy="526.7" r="3.7"/>
<circle cx="227.6" cy="526.7" r="3.7"/>
<circle cx="162.7" cy="529.4" r="3.7"/>
<circle cx="255.8" cy="523.1" r="3.7"/>
<circle cx="260.8" cy="521.8" r="3.7"/>
<circle cx="256.3" cy="526.9" r="3.7"/>
<circle cx="264.6" cy="526.4" r="3.7"/>
<circle cx="266.6" cy="531.1" r="3.7"/>
<circle cx="256.6" cy="531.9" r="3.7"/>
<circle cx="266.6" cy="534.9" r="3.7"/>
<circle cx="255.8" cy="535.7" r="3.7"/>
<circle cx="250.0" cy="534.4" r="3.7"/>
<circle cx="245.0" cy="539.5" r="3.7"/>
<circle cx="224.8" cy="543.2" r="3.7"/>
<circle cx="208.7" cy="552.8" r="3.7"/>
<circle cx="162.7" cy="550.2" r="3.7"/>
<circle cx="257.8" cy="557.6" r="3.7"/>
<circle cx="244.0" cy="561.1" r="3.7"/>
<circle cx="186.1" cy="565.6" r="3.7"/>
<circle cx="169.0" cy="564.6" r="3.7"/>
<circle cx="165.7" cy="570.4" r="3.7"/>
<circle cx="151.8" cy="579.5" r="3.7"/>
<circle cx="156.9" cy="588.0" r="3.7"/>
<circle cx="135.2" cy="580.5" r="3.7"/>
</g>
<g fill="#858585">
<circle cx="142.6" cy="430.9" r="3.7"/>
<circle cx="155.4" cy="496.9" r="3.7"/>
<circle cx="134.9" cy="569.2" r="3.7"/>
<circle cx="121.4" cy="597.6" r="3.7"/>
<circle cx="93.4" cy="610.2" r="3.7"/>
<circle cx="90.1" cy="625.6" r="3.7"/>
</g>
<text x="340.4" y="387.2" font-size="19.5" text-anchor="start" fill="#000" font-weight="bold">(d)</text>
<line x1="381.9" y1="378.0" x2="381.9" y2="638.8" stroke="#a8a8a8" stroke-width="0.8" />
<path d="M380.0 379.6 L381.9 373.2 L383.8 379.6 Z" fill="#8c8c8c"/>
<line x1="378.9" y1="638.8" x2="381.9" y2="638.8" stroke="#a8a8a8" stroke-width="0.8" />
<text x="377.4" y="643.3" font-size="13" text-anchor="end" fill="#303030" stroke="#303030" stroke-width="0.3">0</text>
<line x1="378.9" y1="594.5" x2="381.9" y2="594.5" stroke="#a8a8a8" stroke-width="0.8" />
<text x="377.4" y="599.0" font-size="13" text-anchor="end" fill="#303030" stroke="#303030" stroke-width="0.3">1</text>
<line x1="378.9" y1="550.2" x2="381.9" y2="550.2" stroke="#a8a8a8" stroke-width="0.8" />
<text x="377.4" y="554.7" font-size="13" text-anchor="end" fill="#303030" stroke="#303030" stroke-width="0.3">2</text>
<line x1="378.9" y1="505.9" x2="381.9" y2="505.9" stroke="#a8a8a8" stroke-width="0.8" />
<text x="377.4" y="510.4" font-size="13" text-anchor="end" fill="#303030" stroke="#303030" stroke-width="0.3">3</text>
<line x1="378.9" y1="461.6" x2="381.9" y2="461.6" stroke="#a8a8a8" stroke-width="0.8" />
<text x="377.4" y="466.1" font-size="13" text-anchor="end" fill="#303030" stroke="#303030" stroke-width="0.3">4</text>
<line x1="378.9" y1="417.3" x2="381.9" y2="417.3" stroke="#a8a8a8" stroke-width="0.8" />
<text x="377.4" y="421.8" font-size="13" text-anchor="end" fill="#303030" stroke="#303030" stroke-width="0.3">5</text>
<line x1="380.3" y1="616.6" x2="381.9" y2="616.6" stroke="#a8a8a8" stroke-width="0.6" />
<line x1="380.3" y1="572.3" x2="381.9" y2="572.3" stroke="#a8a8a8" stroke-width="0.6" />
<line x1="380.3" y1="528.0" x2="381.9" y2="528.0" stroke="#a8a8a8" stroke-width="0.6" />
<line x1="380.3" y1="483.8" x2="381.9" y2="483.8" stroke="#a8a8a8" stroke-width="0.6" />
<line x1="380.3" y1="439.4" x2="381.9" y2="439.4" stroke="#a8a8a8" stroke-width="0.6" />
<line x1="380.3" y1="395.1" x2="381.9" y2="395.1" stroke="#a8a8a8" stroke-width="0.6" />
<line x1="381.9" y1="638.8" x2="652.5" y2="638.8" stroke="#a8a8a8" stroke-width="0.8" />
<path d="M650.9 636.9 L657.3 638.8 L650.9 640.7 Z" fill="#8c8c8c"/>
<line x1="381.7" y1="638.8" x2="381.7" y2="641.8" stroke="#a8a8a8" stroke-width="0.8" />
<text x="381.7" y="656.0" font-size="13" text-anchor="middle" fill="#303030" stroke="#303030" stroke-width="0.3">0</text>
<line x1="403.3" y1="638.8" x2="403.3" y2="641.8" stroke="#a8a8a8" stroke-width="0.8" />
<text x="403.3" y="656.0" font-size="13" text-anchor="middle" fill="#303030" stroke="#303030" stroke-width="0.3">10</text>
<line x1="424.9" y1="638.8" x2="424.9" y2="641.8" stroke="#a8a8a8" stroke-width="0.8" />
<text x="424.9" y="656.0" font-size="13" text-anchor="middle" fill="#303030" stroke="#303030" stroke-width="0.3">20</text>
<line x1="446.6" y1="638.8" x2="446.6" y2="641.8" stroke="#a8a8a8" stroke-width="0.8" />
<text x="446.6" y="656.0" font-size="13" text-anchor="middle" fill="#303030" stroke="#303030" stroke-width="0.3">30</text>
<line x1="468.2" y1="638.8" x2="468.2" y2="641.8" stroke="#a8a8a8" stroke-width="0.8" />
<text x="468.2" y="656.0" font-size="13" text-anchor="middle" fill="#303030" stroke="#303030" stroke-width="0.3">40</text>
<line x1="489.8" y1="638.8" x2="489.8" y2="641.8" stroke="#a8a8a8" stroke-width="0.8" />
<text x="489.8" y="656.0" font-size="13" text-anchor="middle" fill="#303030" stroke="#303030" stroke-width="0.3">50</text>
<line x1="511.4" y1="638.8" x2="511.4" y2="641.8" stroke="#a8a8a8" stroke-width="0.8" />
<text x="511.4" y="656.0" font-size="13" text-anchor="middle" fill="#303030" stroke="#303030" stroke-width="0.3">60</text>
<line x1="533.0" y1="638.8" x2="533.0" y2="641.8" stroke="#a8a8a8" stroke-width="0.8" />
<text x="533.0" y="656.0" font-size="13" text-anchor="middle" fill="#303030" stroke="#303030" stroke-width="0.3">70</text>
<line x1="554.7" y1="638.8" x2="554.7" y2="641.8" stroke="#a8a8a8" stroke-width="0.8" />
<text x="554.7" y="656.0" font-size="13" text-anchor="middle" fill="#303030" stroke="#303030" stroke-width="0.3">80</text>
<line x1="576.3" y1="638.8" x2="576.3" y2="641.8" stroke="#a8a8a8" stroke-width="0.8" />
<text x="576.3" y="656.0" font-size="13" text-anchor="middle" fill="#303030" stroke="#303030" stroke-width="0.3">90</text>
<line x1="597.9" y1="638.8" x2="597.9" y2="641.8" stroke="#a8a8a8" stroke-width="0.8" />
<text x="597.9" y="656.0" font-size="13" text-anchor="middle" fill="#303030" stroke="#303030" stroke-width="0.3">100</text>
<line x1="619.5" y1="638.8" x2="619.5" y2="641.8" stroke="#a8a8a8" stroke-width="0.8" />
<text x="619.5" y="656.0" font-size="13" text-anchor="middle" fill="#303030" stroke="#303030" stroke-width="0.3">110</text>
<line x1="641.1" y1="638.8" x2="641.1" y2="641.8" stroke="#a8a8a8" stroke-width="0.8" />
<text x="641.1" y="656.0" font-size="13" text-anchor="middle" fill="#303030" stroke="#303030" stroke-width="0.3">120</text>
<line x1="392.5" y1="638.8" x2="392.5" y2="640.4" stroke="#a8a8a8" stroke-width="0.6" />
<line x1="414.1" y1="638.8" x2="414.1" y2="640.4" stroke="#a8a8a8" stroke-width="0.6" />
<line x1="435.8" y1="638.8" x2="435.8" y2="640.4" stroke="#a8a8a8" stroke-width="0.6" />
<line x1="457.4" y1="638.8" x2="457.4" y2="640.4" stroke="#a8a8a8" stroke-width="0.6" />
<line x1="479.0" y1="638.8" x2="479.0" y2="640.4" stroke="#a8a8a8" stroke-width="0.6" />
<line x1="500.6" y1="638.8" x2="500.6" y2="640.4" stroke="#a8a8a8" stroke-width="0.6" />
<line x1="522.2" y1="638.8" x2="522.2" y2="640.4" stroke="#a8a8a8" stroke-width="0.6" />
<line x1="543.8" y1="638.8" x2="543.8" y2="640.4" stroke="#a8a8a8" stroke-width="0.6" />
<line x1="565.5" y1="638.8" x2="565.5" y2="640.4" stroke="#a8a8a8" stroke-width="0.6" />
<line x1="587.1" y1="638.8" x2="587.1" y2="640.4" stroke="#a8a8a8" stroke-width="0.6" />
<line x1="608.7" y1="638.8" x2="608.7" y2="640.4" stroke="#a8a8a8" stroke-width="0.6" />
<line x1="630.3" y1="638.8" x2="630.3" y2="640.4" stroke="#a8a8a8" stroke-width="0.6" />
<path d="M382.40 638.8 L382.40 492.0 L384.57 492.0 L384.57 520.8 L386.73 520.8 L386.73 511.2 L388.90 511.2 L388.90 501.9 L391.06 501.9 L391.06 535.2 L393.23 535.2 L393.23 509.4 L395.40 509.4 L395.40 554.8 L397.56 554.8 L397.56 543.4 L399.73 543.4 L399.73 531.6 L401.89 531.6 L401.89 535.9 L404.06 535.9 L404.06 548.1 L406.23 548.1 L406.23 532.4 L408.39 532.4 L408.39 546.9 L410.56 546.9 L410.56 529.7 L412.72 529.7 L412.72 533.0 L414.89 533.0 L414.89 533.3 L417.06 533.3 L417.06 457.1 L419.22 457.1 L419.22 452.7 L421.39 452.7 L421.39 564.4 L423.55 564.4 L423.55 550.9 L425.72 550.9 L425.72 479.8 L427.89 479.8 L427.89 510.3 L430.05 510.3 L430.05 543.1 L432.22 543.1 L432.22 567.0 L434.38 567.0 L434.38 492.9 L436.55 492.9 L436.55 470.2 L438.72 470.2 L438.72 433.5 L440.88 433.5 L440.88 481.9 L443.05 481.9 L443.05 503.3 L445.21 503.3 L445.21 447.0 L447.38 447.0 L447.38 413.8 L449.55 413.8 L449.55 428.3 L451.71 428.3 L451.71 441.0 L453.88 441.0 L453.88 456.2 L456.04 456.2 L456.04 505.1 L458.21 505.1 L458.21 500.7 L460.38 500.7 L460.38 505.1 L462.54 505.1 L462.54 484.7 L464.71 484.7 L464.71 542.0 L466.87 542.0 L466.87 553.0 L469.04 553.0 L469.04 520.8 L471.21 520.8 L471.21 505.6 L473.37 505.6 L473.37 522.5 L475.54 522.5 L475.54 511.7 L477.70 511.7 L477.70 543.4 L479.87 543.4 L479.87 580.1 L482.04 580.1 L482.04 559.1 L484.20 559.1 L484.20 556.2 L486.37 556.2 L486.37 549.0 L488.53 549.0 L488.53 568.4 L490.70 568.4 L490.70 543.1 L492.87 543.1 L492.87 529.5 L495.03 529.5 L495.03 535.6 L497.20 535.6 L497.20 538.2 L499.36 538.2 L499.36 532.1 L501.53 532.1 L501.53 547.3 L503.70 547.3 L503.70 550.1 L505.86 550.1 L505.86 549.0 L508.03 549.0 L508.03 512.9 L510.19 512.9 L510.19 532.6 L512.36 532.6 L512.36 536.5 L514.53 536.5 L514.53 561.8 L516.69 561.8 L516.69 535.2 L518.86 535.2 L518.86 544.0 L521.02 544.0 L521.02 554.3 L523.19 554.3 L523.19 520.2 L525.36 520.2 L525.36 542.6 L527.52 542.6 L527.52 563.0 L529.69 563.0 L529.69 560.4 L531.85 560.4 L531.85 523.0 L534.02 523.0 L534.02 539.6 L536.19 539.6 L536.19 513.4 L538.35 513.4 L538.35 563.5 L540.52 563.5 L540.52 528.1 L542.68 528.1 L542.68 479.4 L544.85 479.4 L544.85 526.9 L547.02 526.9 L547.02 491.5 L549.18 491.5 L549.18 539.9 L551.35 539.9 L551.35 540.5 L553.51 540.5 L553.51 556.2 L555.68 556.2 L555.68 539.4 L557.85 539.4 L557.85 547.8 L560.01 547.8 L560.01 530.9 L562.18 530.9 L562.18 541.7 L564.34 541.7 L564.34 515.5 L566.51 515.5 L566.51 549.5 L568.68 549.5 L568.68 530.7 L570.84 530.7 L570.84 514.7 L573.01 514.7 L573.01 489.4 L575.17 489.4 L575.17 493.4 L577.34 493.4 L577.34 471.1 L579.51 471.1 L579.51 482.4 L581.67 482.4 L581.67 515.2 L583.84 515.2 L583.84 517.6 L586.00 517.6 L586.00 563.0 L588.17 563.0 L588.17 503.3 L590.34 503.3 L590.34 565.8 L592.50 565.8 L592.50 534.2 L594.67 534.2 L594.67 539.9 L596.83 539.9 L596.83 539.1 L599.00 539.1 L599.00 526.5 L601.17 526.5 L601.17 528.3 L603.33 528.3 L603.33 464.1 L605.50 464.1 L605.50 512.6 L607.66 512.6 L607.66 485.4 L609.83 485.4 L609.83 503.0 L612.00 503.0 L612.00 538.2 L614.16 538.2 L614.16 527.2 L616.33 527.2 L616.33 485.9 L618.49 485.9 L618.49 490.8 L620.66 490.8 L620.66 531.8 L622.83 531.8 L622.83 522.9 L624.99 522.9 L624.99 525.5 L627.16 525.5 L627.16 526.0 L629.32 526.0 L629.32 488.0 L631.49 488.0 L631.49 463.5 L633.66 463.5 L633.66 505.4 L635.82 505.4 L635.82 464.4 L637.99 464.4 L637.99 489.7 L640.15 489.7 L640.15 638.8 Z" fill="#1c1c1c"/>
<g stroke="#3c3c3c" stroke-width="0.35">
<line x1="384.57" y1="520.8" x2="384.57" y2="638.8"/>
<line x1="386.73" y1="520.8" x2="386.73" y2="638.8"/>
<line x1="388.90" y1="511.2" x2="388.90" y2="638.8"/>
<line x1="391.06" y1="535.2" x2="391.06" y2="638.8"/>
<line x1="393.23" y1="535.2" x2="393.23" y2="638.8"/>
<line x1="395.40" y1="554.8" x2="395.40" y2="638.8"/>
<line x1="397.56" y1="554.8" x2="397.56" y2="638.8"/>
<line x1="399.73" y1="543.4" x2="399.73" y2="638.8"/>
<line x1="401.89" y1="535.9" x2="401.89" y2="638.8"/>
<line x1="404.06" y1="548.1" x2="404.06" y2="638.8"/>
<line x1="406.23" y1="548.1" x2="406.23" y2="638.8"/>
<line x1="408.39" y1="546.9" x2="408.39" y2="638.8"/>
<line x1="410.56" y1="546.9" x2="410.56" y2="638.8"/>
<line x1="412.72" y1="533.0" x2="412.72" y2="638.8"/>
<line x1="414.89" y1="533.3" x2="414.89" y2="638.8"/>
<line x1="417.06" y1="533.3" x2="417.06" y2="638.8"/>
<line x1="419.22" y1="457.1" x2="419.22" y2="638.8"/>
<line x1="421.39" y1="564.4" x2="421.39" y2="638.8"/>
<line x1="423.55" y1="564.4" x2="423.55" y2="638.8"/>
<line x1="425.72" y1="550.9" x2="425.72" y2="638.8"/>
<line x1="427.89" y1="510.3" x2="427.89" y2="638.8"/>
<line x1="430.05" y1="543.1" x2="430.05" y2="638.8"/>
<line x1="432.22" y1="567.0" x2="432.22" y2="638.8"/>
<line x1="434.38" y1="567.0" x2="434.38" y2="638.8"/>
<line x1="436.55" y1="492.9" x2="436.55" y2="638.8"/>
<line x1="438.72" y1="470.2" x2="438.72" y2="638.8"/>
<line x1="440.88" y1="481.9" x2="440.88" y2="638.8"/>
<line x1="443.05" y1="503.3" x2="443.05" y2="638.8"/>
<line x1="445.21" y1="503.3" x2="445.21" y2="638.8"/>
<line x1="447.38" y1="447.0" x2="447.38" y2="638.8"/>
<line x1="449.55" y1="428.3" x2="449.55" y2="638.8"/>
<line x1="451.71" y1="441.0" x2="451.71" y2="638.8"/>
<line x1="453.88" y1="456.2" x2="453.88" y2="638.8"/>
<line x1="456.04" y1="505.1" x2="456.04" y2="638.8"/>
<line x1="458.21" y1="505.1" x2="458.21" y2="638.8"/>
<line x1="460.38" y1="505.1" x2="460.38" y2="638.8"/>
<line x1="462.54" y1="505.1" x2="462.54" y2="638.8"/>
<line x1="464.71" y1="542.0" x2="464.71" y2="638.8"/>
<line x1="466.87" y1="553.0" x2="466.87" y2="638.8"/>
<line x1="469.04" y1="553.0" x2="469.04" y2="638.8"/>
<line x1="471.21" y1="520.8" x2="471.21" y2="638.8"/>
<line x1="473.37" y1="522.5" x2="473.37" y2="638.8"/>
<line x1="475.54" y1="522.5" x2="475.54" y2="638.8"/>
<line x1="477.70" y1="543.4" x2="477.70" y2="638.8"/>
<line x1="479.87" y1="580.1" x2="479.87" y2="638.8"/>
<line x1="482.04" y1="580.1" x2="482.04" y2="638.8"/>
<line x1="484.20" y1="559.1" x2="484.20" y2="638.8"/>
<line x1="486.37" y1="556.2" x2="486.37" y2="638.8"/>
<line x1="488.53" y1="568.4" x2="488.53" y2="638.8"/>
<line x1="490.70" y1="568.4" x2="490.70" y2="638.8"/>
<line x1="492.87" y1="543.1" x2="492.87" y2="638.8"/>
<line x1="495.03" y1="535.6" x2="495.03" y2="638.8"/>
<line x1="497.20" y1="538.2" x2="497.20" y2="638.8"/>
<line x1="499.36" y1="538.2" x2="499.36" y2="638.8"/>
<line x1="501.53" y1="547.3" x2="501.53" y2="638.8"/>
<line x1="503.70" y1="550.1" x2="503.70" y2="638.8"/>
<line x1="505.86" y1="550.1" x2="505.86" y2="638.8"/>
<line x1="508.03" y1="549.0" x2="508.03" y2="638.8"/>
<line x1="510.19" y1="532.6" x2="510.19" y2="638.8"/>
<line x1="512.36" y1="536.5" x2="512.36" y2="638.8"/>
<line x1="514.53" y1="561.8" x2="514.53" y2="638.8"/>
<line x1="516.69" y1="561.8" x2="516.69" y2="638.8"/>
<line x1="518.86" y1="544.0" x2="518.86" y2="638.8"/>
<line x1="521.02" y1="554.3" x2="521.02" y2="638.8"/>
<line x1="523.19" y1="554.3" x2="523.19" y2="638.8"/>
<line x1="525.36" y1="542.6" x2="525.36" y2="638.8"/>
<line x1="527.52" y1="563.0" x2="527.52" y2="638.8"/>
<line x1="529.69" y1="563.0" x2="529.69" y2="638.8"/>
<line x1="531.85" y1="560.4" x2="531.85" y2="638.8"/>
<line x1="534.02" y1="539.6" x2="534.02" y2="638.8"/>
<line x1="536.19" y1="539.6" x2="536.19" y2="638.8"/>
<line x1="538.35" y1="563.5" x2="538.35" y2="638.8"/>
<line x1="540.52" y1="563.5" x2="540.52" y2="638.8"/>
<line x1="542.68" y1="528.1" x2="542.68" y2="638.8"/>
<line x1="544.85" y1="526.9" x2="544.85" y2="638.8"/>
<line x1="547.02" y1="526.9" x2="547.02" y2="638.8"/>
<line x1="549.18" y1="539.9" x2="549.18" y2="638.8"/>
<line x1="551.35" y1="540.5" x2="551.35" y2="638.8"/>
<line x1="553.51" y1="556.2" x2="553.51" y2="638.8"/>
<line x1="555.68" y1="556.2" x2="555.68" y2="638.8"/>
<line x1="557.85" y1="547.8" x2="557.85" y2="638.8"/>
<line x1="560.01" y1="547.8" x2="560.01" y2="638.8"/>
<line x1="562.18" y1="541.7" x2="562.18" y2="638.8"/>
<line x1="564.34" y1="541.7" x2="564.34" y2="638.8"/>
<line x1="566.51" y1="549.5" x2="566.51" y2="638.8"/>
<line x1="568.68" y1="549.5" x2="568.68" y2="638.8"/>
<line x1="570.84" y1="530.7" x2="570.84" y2="638.8"/>
<line x1="573.01" y1="514.7" x2="573.01" y2="638.8"/>
<line x1="575.17" y1="493.4" x2="575.17" y2="638.8"/>
<line x1="577.34" y1="493.4" x2="577.34" y2="638.8"/>
<line x1="579.51" y1="482.4" x2="579.51" y2="638.8"/>
<line x1="581.67" y1="515.2" x2="581.67" y2="638.8"/>
<line x1="583.84" y1="517.6" x2="583.84" y2="638.8"/>
<line x1="586.00" y1="563.0" x2="586.00" y2="638.8"/>
<line x1="588.17" y1="563.0" x2="588.17" y2="638.8"/>
<line x1="590.34" y1="565.8" x2="590.34" y2="638.8"/>
<line x1="592.50" y1="565.8" x2="592.50" y2="638.8"/>
<line x1="594.67" y1="539.9" x2="594.67" y2="638.8"/>
<line x1="596.83" y1="539.9" x2="596.83" y2="638.8"/>
<line x1="599.00" y1="539.1" x2="599.00" y2="638.8"/>
<line x1="601.17" y1="528.3" x2="601.17" y2="638.8"/>
<line x1="603.33" y1="528.3" x2="603.33" y2="638.8"/>
<line x1="605.50" y1="512.6" x2="605.50" y2="638.8"/>
<line x1="607.66" y1="512.6" x2="607.66" y2="638.8"/>
<line x1="609.83" y1="503.0" x2="609.83" y2="638.8"/>
<line x1="612.00" y1="538.2" x2="612.00" y2="638.8"/>
<line x1="614.16" y1="538.2" x2="614.16" y2="638.8"/>
<line x1="616.33" y1="527.2" x2="616.33" y2="638.8"/>
<line x1="618.49" y1="490.8" x2="618.49" y2="638.8"/>
<line x1="620.66" y1="531.8" x2="620.66" y2="638.8"/>
<line x1="622.83" y1="531.8" x2="622.83" y2="638.8"/>
<line x1="624.99" y1="525.5" x2="624.99" y2="638.8"/>
<line x1="627.16" y1="526.0" x2="627.16" y2="638.8"/>
<line x1="629.32" y1="526.0" x2="629.32" y2="638.8"/>
<line x1="631.49" y1="488.0" x2="631.49" y2="638.8"/>
<line x1="633.66" y1="505.4" x2="633.66" y2="638.8"/>
<line x1="635.82" y1="505.4" x2="635.82" y2="638.8"/>
<line x1="637.99" y1="489.7" x2="637.99" y2="638.8"/>
</g>
<path d="M640.15 638.8 L640.15 596.1 L642.32 596.1 L642.32 594.5 L644.49 594.5 L644.49 596.8 L646.65 596.8 L646.65 596.1 L648.82 596.1 L648.82 586.8 L650.98 586.8 L650.98 598.0 L653.15 598.0 L653.15 638.8 Z" fill="#666666"/>
<g stroke="#7c7c7c" stroke-width="0.35">
<line x1="642.32" y1="596.1" x2="642.32" y2="638.8"/>
<line x1="644.49" y1="596.8" x2="644.49" y2="638.8"/>
<line x1="646.65" y1="596.8" x2="646.65" y2="638.8"/>
<line x1="648.82" y1="596.1" x2="648.82" y2="638.8"/>
<line x1="650.98" y1="598.0" x2="650.98" y2="638.8"/>
</g>
<line x1="382.0" y1="574.3" x2="656.0" y2="574.3" stroke="#222" stroke-width="0.7" stroke-dasharray="2.5 1.2"/>
<text x="383.0" y="580.5" font-size="4.5" text-anchor="start" fill="#000" stroke="#000" stroke-width="0.3">D-Crit</text>
<text x="361.6" y="505.6" font-size="14" text-anchor="middle" fill="#303030" stroke="#303030" stroke-width="0.3" transform="rotate(-90 361.6 505.6)" textLength="45.4" lengthAdjust="spacingAndGlyphs">DModX</text>
<text x="519.4" y="671.2" font-size="14" text-anchor="middle" fill="#303030" stroke="#303030" stroke-width="0.3" textLength="110.4" lengthAdjust="spacingAndGlyphs">Number of samples</text>
<text x="465.0" y="386.4" font-size="18" text-anchor="start" fill="#1a1a1a" stroke="#1a1a1a" stroke-width="0.25">Gansu</text>
<text x="465.0" y="408.4" font-size="18" text-anchor="start" fill="#1a1a1a" stroke="#1a1a1a" stroke-width="0.25">Ningxia</text>
<text x="465.0" y="430.5" font-size="18" text-anchor="start" fill="#1a1a1a" stroke="#1a1a1a" stroke-width="0.25">Qinghai</text>
<text x="465.0" y="452.5" font-size="18" text-anchor="start" fill="#1a1a1a" stroke="#1a1a1a" stroke-width="0.25">Sichuan</text>
<text x="640.0" y="552.7" font-size="18" text-anchor="start" fill="#8a8a8a" stroke="#8a8a8a" stroke-width="0.25">Shaanxi</text>
<text x="10.0" y="740.8" font-size="19.5" text-anchor="start" fill="#000" font-weight="bold">(e)</text>
<line x1="58.5" y1="732.0" x2="58.5" y2="992.6" stroke="#a8a8a8" stroke-width="0.8" />
<path d="M56.6 733.6 L58.5 727.2 L60.4 733.6 Z" fill="#8c8c8c"/>
<line x1="55.5" y1="771.5" x2="58.5" y2="771.5" stroke="#a8a8a8" stroke-width="0.8" />
<text x="54.0" y="776.4" font-size="14" text-anchor="end" fill="#303030" stroke="#303030" stroke-width="0.3">20</text>
<line x1="55.5" y1="815.6" x2="58.5" y2="815.6" stroke="#a8a8a8" stroke-width="0.8" />
<text x="54.0" y="820.5" font-size="14" text-anchor="end" fill="#303030" stroke="#303030" stroke-width="0.3">0</text>
<line x1="55.5" y1="859.8" x2="58.5" y2="859.8" stroke="#a8a8a8" stroke-width="0.8" />
<text x="54.0" y="864.6" font-size="14" text-anchor="end" fill="#303030" stroke="#303030" stroke-width="0.3">-20</text>
<line x1="55.5" y1="903.9" x2="58.5" y2="903.9" stroke="#a8a8a8" stroke-width="0.8" />
<text x="54.0" y="908.8" font-size="14" text-anchor="end" fill="#303030" stroke="#303030" stroke-width="0.3">-40</text>
<line x1="55.5" y1="948.0" x2="58.5" y2="948.0" stroke="#a8a8a8" stroke-width="0.8" />
<text x="54.0" y="952.9" font-size="14" text-anchor="end" fill="#303030" stroke="#303030" stroke-width="0.3">-60</text>
<line x1="55.5" y1="992.2" x2="58.5" y2="992.2" stroke="#a8a8a8" stroke-width="0.8" />
<text x="54.0" y="997.1" font-size="14" text-anchor="end" fill="#303030" stroke="#303030" stroke-width="0.3">-80</text>
<line x1="56.9" y1="981.2" x2="58.5" y2="981.2" stroke="#a8a8a8" stroke-width="0.6" />
<line x1="56.9" y1="970.1" x2="58.5" y2="970.1" stroke="#a8a8a8" stroke-width="0.6" />
<line x1="56.9" y1="959.1" x2="58.5" y2="959.1" stroke="#a8a8a8" stroke-width="0.6" />
<line x1="56.9" y1="937.0" x2="58.5" y2="937.0" stroke="#a8a8a8" stroke-width="0.6" />
<line x1="56.9" y1="926.0" x2="58.5" y2="926.0" stroke="#a8a8a8" stroke-width="0.6" />
<line x1="56.9" y1="914.9" x2="58.5" y2="914.9" stroke="#a8a8a8" stroke-width="0.6" />
<line x1="56.9" y1="892.9" x2="58.5" y2="892.9" stroke="#a8a8a8" stroke-width="0.6" />
<line x1="56.9" y1="881.8" x2="58.5" y2="881.8" stroke="#a8a8a8" stroke-width="0.6" />
<line x1="56.9" y1="870.8" x2="58.5" y2="870.8" stroke="#a8a8a8" stroke-width="0.6" />
<line x1="56.9" y1="848.7" x2="58.5" y2="848.7" stroke="#a8a8a8" stroke-width="0.6" />
<line x1="56.9" y1="837.7" x2="58.5" y2="837.7" stroke="#a8a8a8" stroke-width="0.6" />
<line x1="56.9" y1="826.6" x2="58.5" y2="826.6" stroke="#a8a8a8" stroke-width="0.6" />
<line x1="56.9" y1="804.6" x2="58.5" y2="804.6" stroke="#a8a8a8" stroke-width="0.6" />
<line x1="56.9" y1="793.5" x2="58.5" y2="793.5" stroke="#a8a8a8" stroke-width="0.6" />
<line x1="56.9" y1="782.5" x2="58.5" y2="782.5" stroke="#a8a8a8" stroke-width="0.6" />
<line x1="56.9" y1="760.4" x2="58.5" y2="760.4" stroke="#a8a8a8" stroke-width="0.6" />
<line x1="56.9" y1="749.4" x2="58.5" y2="749.4" stroke="#a8a8a8" stroke-width="0.6" />
<line x1="58.5" y1="992.6" x2="285.5" y2="992.6" stroke="#a8a8a8" stroke-width="0.8" />
<path d="M283.9 990.7 L290.3 992.6 L283.9 994.5 Z" fill="#8c8c8c"/>
<line x1="58.5" y1="992.6" x2="58.5" y2="995.6" stroke="#a8a8a8" stroke-width="0.8" />
<text x="58.5" y="1009.6" font-size="14" text-anchor="middle" fill="#303030" stroke="#303030" stroke-width="0.3">-1.2</text>
<line x1="84.2" y1="992.6" x2="84.2" y2="995.6" stroke="#a8a8a8" stroke-width="0.8" />
<text x="84.2" y="1009.6" font-size="14" text-anchor="middle" fill="#303030" stroke="#303030" stroke-width="0.3">-1</text>
<line x1="109.8" y1="992.6" x2="109.8" y2="995.6" stroke="#a8a8a8" stroke-width="0.8" />
<text x="109.8" y="1009.6" font-size="14" text-anchor="middle" fill="#303030" stroke="#303030" stroke-width="0.3">-0.8</text>
<line x1="135.5" y1="992.6" x2="135.5" y2="995.6" stroke="#a8a8a8" stroke-width="0.8" />
<text x="135.5" y="1009.6" font-size="14" text-anchor="middle" fill="#303030" stroke="#303030" stroke-width="0.3">-0.6</text>
<line x1="161.1" y1="992.6" x2="161.1" y2="995.6" stroke="#a8a8a8" stroke-width="0.8" />
<text x="161.1" y="1009.6" font-size="14" text-anchor="middle" fill="#303030" stroke="#303030" stroke-width="0.3">-0.4</text>
<line x1="186.8" y1="992.6" x2="186.8" y2="995.6" stroke="#a8a8a8" stroke-width="0.8" />
<text x="186.8" y="1009.6" font-size="14" text-anchor="middle" fill="#303030" stroke="#303030" stroke-width="0.3">-0.2</text>
<line x1="212.4" y1="992.6" x2="212.4" y2="995.6" stroke="#a8a8a8" stroke-width="0.8" />
<text x="212.4" y="1009.6" font-size="14" text-anchor="middle" fill="#303030" stroke="#303030" stroke-width="0.3">0</text>
<line x1="238.1" y1="992.6" x2="238.1" y2="995.6" stroke="#a8a8a8" stroke-width="0.8" />
<text x="238.1" y="1009.6" font-size="14" text-anchor="middle" fill="#303030" stroke="#303030" stroke-width="0.3">0.2</text>
<line x1="263.7" y1="992.6" x2="263.7" y2="995.6" stroke="#a8a8a8" stroke-width="0.8" />
<text x="263.7" y="1009.6" font-size="14" text-anchor="middle" fill="#303030" stroke="#303030" stroke-width="0.3">0.4</text>
<line x1="71.3" y1="992.6" x2="71.3" y2="994.2" stroke="#a8a8a8" stroke-width="0.6" />
<line x1="97.0" y1="992.6" x2="97.0" y2="994.2" stroke="#a8a8a8" stroke-width="0.6" />
<line x1="122.6" y1="992.6" x2="122.6" y2="994.2" stroke="#a8a8a8" stroke-width="0.6" />
<line x1="148.3" y1="992.6" x2="148.3" y2="994.2" stroke="#a8a8a8" stroke-width="0.6" />
<line x1="173.9" y1="992.6" x2="173.9" y2="994.2" stroke="#a8a8a8" stroke-width="0.6" />
<line x1="199.6" y1="992.6" x2="199.6" y2="994.2" stroke="#a8a8a8" stroke-width="0.6" />
<line x1="225.2" y1="992.6" x2="225.2" y2="994.2" stroke="#a8a8a8" stroke-width="0.6" />
<line x1="250.9" y1="992.6" x2="250.9" y2="994.2" stroke="#a8a8a8" stroke-width="0.6" />
<line x1="276.5" y1="992.6" x2="276.5" y2="994.2" stroke="#a8a8a8" stroke-width="0.6" />
<line x1="58.5" y1="815.6" x2="289.5" y2="815.6" stroke="#a8a8a8" stroke-width="0.8" />
<line x1="212.4" y1="727.0" x2="212.4" y2="992.6" stroke="#a8a8a8" stroke-width="0.8" />
<text x="25.8" y="859.7" font-size="14" text-anchor="middle" fill="#303030" stroke="#303030" stroke-width="0.3" transform="rotate(-90 25.8 859.7)" textLength="74.4" lengthAdjust="spacingAndGlyphs">115.51 * u[1]</text>
<text x="174.5" y="1025.3" font-size="14" text-anchor="middle" fill="#303030" stroke="#303030" stroke-width="0.3" textLength="72.3" lengthAdjust="spacingAndGlyphs">1.0056 * t[1]</text>
<text x="251.5" y="715.6" font-size="15" text-anchor="start" fill="#1a1a1a" stroke="#1a1a1a" stroke-width="0.3">altitude (m)</text>
<defs><linearGradient id="cb" x1="0" y1="0" x2="0" y2="1"><stop offset="0" stop-color="#848484"/><stop offset="0.145" stop-color="#a9a9a9"/><stop offset="0.285" stop-color="#ececec"/><stop offset="0.43" stop-color="#d6d6d6"/><stop offset="0.57" stop-color="#dadada"/><stop offset="0.70" stop-color="#dcdcdc"/><stop offset="0.78" stop-color="#b4b4b4"/><stop offset="0.857" stop-color="#8a8a8a"/><stop offset="1" stop-color="#4e4e4e"/></linearGradient></defs>
<rect x="295.5" y="731.4" width="7.1" height="293.8" fill="url(#cb)"/>
<text x="303.8" y="776.3" font-size="5.6" font-family="Liberation Sans, sans-serif" fill="#3a3a3a">4000</text>
<text x="303.8" y="818.2" font-size="5.6" font-family="Liberation Sans, sans-serif" fill="#3a3a3a">3500</text>
<text x="303.8" y="860.1" font-size="5.6" font-family="Liberation Sans, sans-serif" fill="#3a3a3a">3000</text>
<text x="303.8" y="902.0" font-size="5.6" font-family="Liberation Sans, sans-serif" fill="#3a3a3a">2500</text>
<text x="303.8" y="943.9" font-size="5.6" font-family="Liberation Sans, sans-serif" fill="#3a3a3a">2000</text>
<text x="303.8" y="985.8" font-size="5.6" font-family="Liberation Sans, sans-serif" fill="#3a3a3a">1500</text>
<text x="303.8" y="1027.7" font-size="5.6" font-family="Liberation Sans, sans-serif" fill="#3a3a3a">1000</text>
<g stroke="#4c4c4c" stroke-width="0.8">
<circle cx="212.2" cy="732.6" r="3.6" fill="#707070"/>
<circle cx="223.3" cy="732.4" r="3.6" fill="#707070"/>
<circle cx="226.3" cy="736.4" r="3.6" fill="#707070"/>
<circle cx="232.6" cy="736.9" r="3.6" fill="#707070"/>
<circle cx="241.4" cy="736.4" r="3.6" fill="#707070"/>
<circle cx="243.4" cy="732.4" r="3.6" fill="#707070"/>
<circle cx="247.7" cy="736.9" r="3.6" fill="#707070"/>
<circle cx="217.2" cy="752.8" r="3.6" fill="#8e8e8e"/>
<circle cx="223.3" cy="751.5" r="3.6" fill="#8e8e8e"/>
<circle cx="235.1" cy="751.8" r="3.6" fill="#8e8e8e"/>
<circle cx="246.9" cy="752.8" r="3.6" fill="#8e8e8e"/>
<circle cx="248.2" cy="751.5" r="3.6" fill="#8e8e8e"/>
<circle cx="253.5" cy="751.8" r="3.6" fill="#8e8e8e"/>
<circle cx="260.8" cy="752.8" r="3.6" fill="#8e8e8e"/>
<circle cx="264.6" cy="751.5" r="3.6" fill="#8e8e8e"/>
<circle cx="283.2" cy="752.8" r="3.6" fill="#8e8e8e"/>
<circle cx="231.3" cy="760.8" r="3.6" fill="#aaaaaa"/>
<circle cx="237.1" cy="760.8" r="3.6" fill="#aaaaaa"/>
<circle cx="244.2" cy="760.8" r="3.6" fill="#aaaaaa"/>
<circle cx="258.8" cy="760.8" r="3.6" fill="#aaaaaa"/>
<circle cx="226.3" cy="765.6" r="3.6" fill="#aaaaaa"/>
<circle cx="228.0" cy="765.6" r="3.6" fill="#aaaaaa"/>
<circle cx="252.0" cy="765.6" r="3.6" fill="#aaaaaa"/>
<circle cx="257.8" cy="765.6" r="3.6" fill="#aaaaaa"/>
<circle cx="190.3" cy="783.0" r="3.6" fill="#dcdcdc"/>
<circle cx="204.4" cy="783.0" r="3.6" fill="#dcdcdc"/>
<circle cx="212.2" cy="783.0" r="3.6" fill="#dcdcdc"/>
<circle cx="218.0" cy="783.0" r="3.6" fill="#dcdcdc"/>
<circle cx="223.0" cy="783.0" r="3.6" fill="#dcdcdc"/>
<circle cx="230.0" cy="784.7" r="3.6" fill="#dcdcdc"/>
<circle cx="236.9" cy="784.7" r="3.6" fill="#dcdcdc"/>
<circle cx="228.8" cy="781.5" r="3.6" fill="#dcdcdc"/>
<circle cx="237.4" cy="781.5" r="3.6" fill="#dcdcdc"/>
<circle cx="242.6" cy="781.5" r="3.6" fill="#dcdcdc"/>
<circle cx="257.8" cy="781.5" r="3.6" fill="#dcdcdc"/>
<circle cx="213.4" cy="790.3" r="3.6" fill="#e8e8e8"/>
<circle cx="219.2" cy="789.8" r="3.6" fill="#e8e8e8"/>
<circle cx="225.0" cy="790.3" r="3.6" fill="#e8e8e8"/>
<circle cx="229.3" cy="789.8" r="3.6" fill="#e8e8e8"/>
<circle cx="234.3" cy="790.3" r="3.6" fill="#e8e8e8"/>
<circle cx="239.4" cy="789.8" r="3.6" fill="#e8e8e8"/>
<circle cx="243.7" cy="789.8" r="3.6" fill="#e8e8e8"/>
<circle cx="247.2" cy="790.3" r="3.6" fill="#e8e8e8"/>
<circle cx="258.8" cy="789.8" r="3.6" fill="#e8e8e8"/>
<circle cx="261.3" cy="789.8" r="3.6" fill="#e8e8e8"/>
<circle cx="169.6" cy="798.1" r="3.6" fill="#e8e8e8"/>
<circle cx="197.8" cy="798.1" r="3.6" fill="#e8e8e8"/>
<circle cx="202.1" cy="798.1" r="3.6" fill="#e8e8e8"/>
<circle cx="205.4" cy="798.1" r="3.6" fill="#e8e8e8"/>
<circle cx="215.0" cy="798.1" r="3.6" fill="#e8e8e8"/>
<circle cx="221.8" cy="795.6" r="3.6" fill="#e8e8e8"/>
<circle cx="226.3" cy="795.6" r="3.6" fill="#e8e8e8"/>
<circle cx="223.0" cy="807.4" r="3.6" fill="#e8e8e8"/>
<circle cx="229.8" cy="807.4" r="3.6" fill="#e8e8e8"/>
<circle cx="239.9" cy="807.4" r="3.6" fill="#e8e8e8"/>
<circle cx="241.6" cy="807.4" r="3.6" fill="#e8e8e8"/>
<circle cx="187.8" cy="815.5" r="3.6" fill="#dcdcdc"/>
<circle cx="194.6" cy="815.5" r="3.6" fill="#dcdcdc"/>
<circle cx="212.2" cy="815.5" r="3.6" fill="#dcdcdc"/>
<circle cx="218.5" cy="815.5" r="3.6" fill="#dcdcdc"/>
<circle cx="221.2" cy="815.5" r="3.6" fill="#dcdcdc"/>
<circle cx="184.0" cy="821.8" r="3.6" fill="#dcdcdc"/>
<circle cx="201.6" cy="821.8" r="3.6" fill="#dcdcdc"/>
<circle cx="207.9" cy="821.8" r="3.6" fill="#dcdcdc"/>
<circle cx="212.2" cy="822.5" r="3.6" fill="#dcdcdc"/>
<circle cx="233.1" cy="821.8" r="3.6" fill="#dcdcdc"/>
<circle cx="196.6" cy="826.3" r="3.6" fill="#dcdcdc"/>
<circle cx="209.2" cy="826.3" r="3.6" fill="#dcdcdc"/>
<circle cx="216.5" cy="826.3" r="3.6" fill="#dcdcdc"/>
<circle cx="224.8" cy="826.3" r="3.6" fill="#dcdcdc"/>
<circle cx="199.6" cy="831.8" r="3.6" fill="#dcdcdc"/>
<circle cx="218.5" cy="831.8" r="3.6" fill="#dcdcdc"/>
<circle cx="225.5" cy="831.8" r="3.6" fill="#dcdcdc"/>
<circle cx="240.6" cy="831.8" r="3.6" fill="#dcdcdc"/>
<circle cx="263.8" cy="831.8" r="3.6" fill="#dcdcdc"/>
<circle cx="186.0" cy="837.6" r="3.6" fill="#dcdcdc"/>
<circle cx="195.3" cy="837.6" r="3.6" fill="#dcdcdc"/>
<circle cx="203.6" cy="837.6" r="3.6" fill="#dcdcdc"/>
<circle cx="220.0" cy="837.6" r="3.6" fill="#dcdcdc"/>
<circle cx="184.7" cy="847.2" r="3.6" fill="#dcdcdc"/>
<circle cx="192.0" cy="847.2" r="3.6" fill="#dcdcdc"/>
<circle cx="197.8" cy="845.9" r="3.6" fill="#dcdcdc"/>
<circle cx="199.1" cy="846.4" r="3.6" fill="#dcdcdc"/>
<circle cx="204.9" cy="847.2" r="3.6" fill="#dcdcdc"/>
<circle cx="225.3" cy="847.2" r="3.6" fill="#dcdcdc"/>
<circle cx="235.1" cy="847.2" r="3.6" fill="#dcdcdc"/>
<circle cx="189.0" cy="860.3" r="3.6" fill="#dcdcdc"/>
<circle cx="205.9" cy="860.3" r="3.6" fill="#dcdcdc"/>
<circle cx="144.0" cy="886.1" r="3.6" fill="#dcdcdc"/>
<circle cx="148.3" cy="886.1" r="3.6" fill="#dcdcdc"/>
<circle cx="158.9" cy="886.1" r="3.6" fill="#dcdcdc"/>
<circle cx="162.9" cy="886.1" r="3.6" fill="#dcdcdc"/>
<circle cx="146.3" cy="904.0" r="3.6" fill="#dcdcdc"/>
<circle cx="151.3" cy="904.0" r="3.6" fill="#dcdcdc"/>
<circle cx="163.4" cy="904.0" r="3.6" fill="#dcdcdc"/>
<circle cx="165.2" cy="904.0" r="3.6" fill="#dcdcdc"/>
<circle cx="174.3" cy="901.4" r="3.6" fill="#dcdcdc"/>
<circle cx="180.3" cy="901.4" r="3.6" fill="#dcdcdc"/>
<circle cx="200.7" cy="901.4" r="3.6" fill="#dcdcdc"/>
<circle cx="171.5" cy="920.8" r="3.6" fill="#dcdcdc"/>
<circle cx="175.3" cy="920.8" r="3.6" fill="#dcdcdc"/>
<circle cx="181.1" cy="920.8" r="3.6" fill="#dcdcdc"/>
<circle cx="188.6" cy="920.8" r="3.6" fill="#dcdcdc"/>
<circle cx="79.1" cy="980.2" r="3.6" fill="#707070"/>
<circle cx="102.8" cy="980.2" r="3.6" fill="#707070"/>
<circle cx="123.2" cy="980.2" r="3.6" fill="#707070"/>
<circle cx="124.7" cy="980.2" r="3.6" fill="#707070"/>
</g>
<text x="343.6" y="741.0" font-size="19.5" text-anchor="start" fill="#000" font-weight="bold">(f)</text>
<line x1="397.0" y1="732.3" x2="397.0" y2="992.7" stroke="#a8a8a8" stroke-width="0.8" />
<path d="M395.1 733.9 L397.0 727.5 L398.9 733.9 Z" fill="#8c8c8c"/>
<line x1="394.0" y1="753.7" x2="397.0" y2="753.7" stroke="#a8a8a8" stroke-width="0.8" />
<text x="392.5" y="758.6" font-size="14" text-anchor="end" fill="#303030" stroke="#303030" stroke-width="0.3">0.8</text>
<line x1="394.0" y1="780.2" x2="397.0" y2="780.2" stroke="#a8a8a8" stroke-width="0.8" />
<text x="392.5" y="785.1" font-size="14" text-anchor="end" fill="#303030" stroke="#303030" stroke-width="0.3">0.6</text>
<line x1="394.0" y1="806.8" x2="397.0" y2="806.8" stroke="#a8a8a8" stroke-width="0.8" />
<text x="392.5" y="811.7" font-size="14" text-anchor="end" fill="#303030" stroke="#303030" stroke-width="0.3">0.4</text>
<line x1="394.0" y1="833.4" x2="397.0" y2="833.4" stroke="#a8a8a8" stroke-width="0.8" />
<text x="392.5" y="838.2" font-size="14" text-anchor="end" fill="#303030" stroke="#303030" stroke-width="0.3">0.2</text>
<line x1="394.0" y1="859.9" x2="397.0" y2="859.9" stroke="#a8a8a8" stroke-width="0.8" />
<text x="392.5" y="864.8" font-size="14" text-anchor="end" fill="#303030" stroke="#303030" stroke-width="0.3">0</text>
<line x1="394.0" y1="886.4" x2="397.0" y2="886.4" stroke="#a8a8a8" stroke-width="0.8" />
<text x="392.5" y="891.3" font-size="14" text-anchor="end" fill="#303030" stroke="#303030" stroke-width="0.3">-0.2</text>
<line x1="394.0" y1="913.0" x2="397.0" y2="913.0" stroke="#a8a8a8" stroke-width="0.8" />
<text x="392.5" y="917.9" font-size="14" text-anchor="end" fill="#303030" stroke="#303030" stroke-width="0.3">-0.4</text>
<line x1="394.0" y1="939.5" x2="397.0" y2="939.5" stroke="#a8a8a8" stroke-width="0.8" />
<text x="392.5" y="944.4" font-size="14" text-anchor="end" fill="#303030" stroke="#303030" stroke-width="0.3">-0.6</text>
<line x1="394.0" y1="966.1" x2="397.0" y2="966.1" stroke="#a8a8a8" stroke-width="0.8" />
<text x="392.5" y="971.0" font-size="14" text-anchor="end" fill="#303030" stroke="#303030" stroke-width="0.3">-0.8</text>
<line x1="394.0" y1="992.6" x2="397.0" y2="992.6" stroke="#a8a8a8" stroke-width="0.8" />
<text x="392.5" y="997.5" font-size="14" text-anchor="end" fill="#303030" stroke="#303030" stroke-width="0.3">-1</text>
<line x1="395.4" y1="979.4" x2="397.0" y2="979.4" stroke="#a8a8a8" stroke-width="0.6" />
<line x1="395.4" y1="952.8" x2="397.0" y2="952.8" stroke="#a8a8a8" stroke-width="0.6" />
<line x1="395.4" y1="926.3" x2="397.0" y2="926.3" stroke="#a8a8a8" stroke-width="0.6" />
<line x1="395.4" y1="899.7" x2="397.0" y2="899.7" stroke="#a8a8a8" stroke-width="0.6" />
<line x1="395.4" y1="873.2" x2="397.0" y2="873.2" stroke="#a8a8a8" stroke-width="0.6" />
<line x1="395.4" y1="846.6" x2="397.0" y2="846.6" stroke="#a8a8a8" stroke-width="0.6" />
<line x1="395.4" y1="820.1" x2="397.0" y2="820.1" stroke="#a8a8a8" stroke-width="0.6" />
<line x1="395.4" y1="793.5" x2="397.0" y2="793.5" stroke="#a8a8a8" stroke-width="0.6" />
<line x1="395.4" y1="767.0" x2="397.0" y2="767.0" stroke="#a8a8a8" stroke-width="0.6" />
<line x1="395.4" y1="740.4" x2="397.0" y2="740.4" stroke="#a8a8a8" stroke-width="0.6" />
<line x1="397.0" y1="992.7" x2="652.0" y2="992.7" stroke="#a8a8a8" stroke-width="0.8" />
<path d="M650.4 990.8 L656.8 992.7 L650.4 994.6 Z" fill="#8c8c8c"/>
<line x1="396.7" y1="992.7" x2="396.7" y2="995.7" stroke="#a8a8a8" stroke-width="0.8" />
<text x="396.7" y="1009.7" font-size="14" text-anchor="middle" fill="#303030" stroke="#303030" stroke-width="0.3">-0.4</text>
<line x1="429.2" y1="992.7" x2="429.2" y2="995.7" stroke="#a8a8a8" stroke-width="0.8" />
<text x="429.2" y="1009.7" font-size="14" text-anchor="middle" fill="#303030" stroke="#303030" stroke-width="0.3">-0.3</text>
<line x1="461.7" y1="992.7" x2="461.7" y2="995.7" stroke="#a8a8a8" stroke-width="0.8" />
<text x="461.7" y="1009.7" font-size="14" text-anchor="middle" fill="#303030" stroke="#303030" stroke-width="0.3">-0.2</text>
<line x1="494.2" y1="992.7" x2="494.2" y2="995.7" stroke="#a8a8a8" stroke-width="0.8" />
<text x="494.2" y="1009.7" font-size="14" text-anchor="middle" fill="#303030" stroke="#303030" stroke-width="0.3">-0.1</text>
<line x1="526.7" y1="992.7" x2="526.7" y2="995.7" stroke="#a8a8a8" stroke-width="0.8" />
<text x="526.7" y="1009.7" font-size="14" text-anchor="middle" fill="#303030" stroke="#303030" stroke-width="0.3">0</text>
<line x1="559.2" y1="992.7" x2="559.2" y2="995.7" stroke="#a8a8a8" stroke-width="0.8" />
<text x="559.2" y="1009.7" font-size="14" text-anchor="middle" fill="#303030" stroke="#303030" stroke-width="0.3">0.1</text>
<line x1="591.7" y1="992.7" x2="591.7" y2="995.7" stroke="#a8a8a8" stroke-width="0.8" />
<text x="591.7" y="1009.7" font-size="14" text-anchor="middle" fill="#303030" stroke="#303030" stroke-width="0.3">0.2</text>
<line x1="624.2" y1="992.7" x2="624.2" y2="995.7" stroke="#a8a8a8" stroke-width="0.8" />
<text x="624.2" y="1009.7" font-size="14" text-anchor="middle" fill="#303030" stroke="#303030" stroke-width="0.3">0.3</text>
<line x1="413.0" y1="992.7" x2="413.0" y2="994.3" stroke="#a8a8a8" stroke-width="0.6" />
<line x1="445.5" y1="992.7" x2="445.5" y2="994.3" stroke="#a8a8a8" stroke-width="0.6" />
<line x1="478.0" y1="992.7" x2="478.0" y2="994.3" stroke="#a8a8a8" stroke-width="0.6" />
<line x1="510.5" y1="992.7" x2="510.5" y2="994.3" stroke="#a8a8a8" stroke-width="0.6" />
<line x1="543.0" y1="992.7" x2="543.0" y2="994.3" stroke="#a8a8a8" stroke-width="0.6" />
<line x1="575.5" y1="992.7" x2="575.5" y2="994.3" stroke="#a8a8a8" stroke-width="0.6" />
<line x1="608.0" y1="992.7" x2="608.0" y2="994.3" stroke="#a8a8a8" stroke-width="0.6" />
<line x1="640.5" y1="992.7" x2="640.5" y2="994.3" stroke="#a8a8a8" stroke-width="0.6" />
<line x1="397.0" y1="859.9" x2="656.0" y2="859.9" stroke="#a8a8a8" stroke-width="0.8" />
<line x1="526.7" y1="727.0" x2="526.7" y2="992.7" stroke="#a8a8a8" stroke-width="0.8" />
<text x="362.0" y="859.7" font-size="14" text-anchor="middle" fill="#303030" stroke="#303030" stroke-width="0.3" transform="rotate(-90 362.0 859.7)" textLength="55.0" lengthAdjust="spacingAndGlyphs">p(corr)[1]</text>
<text x="526.8" y="1025.3" font-size="14" text-anchor="middle" fill="#303030" stroke="#303030" stroke-width="0.3" textLength="23.8" lengthAdjust="spacingAndGlyphs">p[1]</text>
<text x="563.8" y="735.2" font-size="18" text-anchor="start" fill="#8a8a8a" stroke="#8a8a8a" stroke-width="0.25">phenolics<tspan font-size="12" dy="-4.3">2</tspan></text>
<text x="412.0" y="981.5" font-size="18" text-anchor="start" fill="#555" stroke="#555" stroke-width="0.25">lipids and steroids<tspan font-size="12" dy="-4.3">1</tspan></text>
<g fill="#868686" stroke="#767676" stroke-width="0.8">
<circle cx="588.7" cy="765.2" r="4.5"/>
<circle cx="588.2" cy="772.2" r="4.5"/>
<circle cx="576.9" cy="771.7" r="4.5"/>
<circle cx="583.2" cy="775.2" r="4.5"/>
<circle cx="570.6" cy="780.2" r="4.5"/>
<circle cx="563.5" cy="781.6" r="4.5"/>
<circle cx="566.8" cy="787.4" r="4.5"/>
<circle cx="571.3" cy="786.9" r="4.5"/>
<circle cx="580.6" cy="786.9" r="4.5"/>
<circle cx="561.2" cy="792.9" r="4.5"/>
<circle cx="565.0" cy="798.7" r="4.5"/>
<circle cx="563.0" cy="803.7" r="4.5"/>
</g>
<g fill="url(#dg)">
<circle cx="426.0" cy="935.7" r="4.9"/>
<circle cx="432.8" cy="941.2" r="4.9"/>
<circle cx="492.1" cy="890.2" r="4.9"/>
<circle cx="489.8" cy="903.5" r="4.9"/>
<circle cx="488.4" cy="913.4" r="4.9"/>
<circle cx="474.1" cy="934.2" r="4.9"/>
<circle cx="479.3" cy="934.9" r="4.9"/>
<circle cx="485.7" cy="932.6" r="4.9"/>
<circle cx="489.2" cy="937.8" r="4.9"/>
<circle cx="493.3" cy="941.9" r="4.9"/>
<circle cx="497.9" cy="943.6" r="4.9"/>
<circle cx="484.5" cy="954.7" r="4.9"/>
</g>
<g fill="#030303" stroke="#2e2e2e" stroke-width="0.6">
<circle cx="554.5" cy="763.4" r="3.55"/>
<circle cx="541.7" cy="785.0" r="3.55"/>
<circle cx="546.4" cy="782.1" r="3.55"/>
<circle cx="558.6" cy="784.2" r="3.55"/>
<circle cx="551.6" cy="787.4" r="3.55"/>
<circle cx="555.1" cy="789.1" r="3.55"/>
<circle cx="542.9" cy="796.1" r="3.55"/>
<circle cx="549.3" cy="796.7" r="3.55"/>
<circle cx="555.1" cy="796.7" r="3.55"/>
<circle cx="537.1" cy="799.0" r="3.55"/>
<circle cx="534.2" cy="803.6" r="3.55"/>
<circle cx="541.7" cy="805.4" r="3.55"/>
<circle cx="548.7" cy="802.5" r="3.55"/>
<circle cx="555.1" cy="803.6" r="3.55"/>
<circle cx="535.3" cy="808.2" r="3.55"/>
<circle cx="550.5" cy="810.6" r="3.55"/>
<circle cx="555.7" cy="811.2" r="3.55"/>
<circle cx="542.3" cy="815.2" r="3.55"/>
<circle cx="535.9" cy="817.0" r="3.55"/>
<circle cx="547.6" cy="820.5" r="3.55"/>
<circle cx="554.9" cy="819.2" r="3.55"/>
<circle cx="532.4" cy="821.7" r="3.55"/>
<circle cx="537.7" cy="823.4" r="3.55"/>
<circle cx="534.8" cy="828.1" r="3.55"/>
<circle cx="540.6" cy="831.0" r="3.55"/>
<circle cx="530.7" cy="833.9" r="3.55"/>
<circle cx="527.2" cy="837.9" r="3.55"/>
<circle cx="535.9" cy="839.1" r="3.55"/>
<circle cx="538.3" cy="843.2" r="3.55"/>
<circle cx="526.0" cy="846.1" r="3.55"/>
<circle cx="533.6" cy="848.4" r="3.55"/>
<circle cx="529.0" cy="856.0" r="3.55"/>
<circle cx="526.0" cy="861.2" r="3.55"/>
<circle cx="537.9" cy="797.4" r="3.55"/>
<circle cx="541.4" cy="796.7" r="3.55"/>
<circle cx="543.3" cy="796.9" r="3.55"/>
<circle cx="546.4" cy="796.8" r="3.55"/>
<circle cx="550.8" cy="798.0" r="3.55"/>
<circle cx="537.3" cy="800.5" r="3.55"/>
<circle cx="540.7" cy="800.2" r="3.55"/>
<circle cx="543.8" cy="800.7" r="3.55"/>
<circle cx="547.1" cy="800.2" r="3.55"/>
<circle cx="549.5" cy="800.2" r="3.55"/>
<circle cx="537.4" cy="803.5" r="3.55"/>
<circle cx="541.3" cy="803.3" r="3.55"/>
<circle cx="543.3" cy="802.9" r="3.55"/>
<circle cx="546.8" cy="803.6" r="3.55"/>
<circle cx="550.5" cy="803.3" r="3.55"/>
<circle cx="538.5" cy="806.6" r="3.55"/>
<circle cx="540.9" cy="806.2" r="3.55"/>
<circle cx="544.0" cy="806.8" r="3.55"/>
<circle cx="546.9" cy="806.8" r="3.55"/>
<circle cx="549.9" cy="806.0" r="3.55"/>
<circle cx="535.1" cy="809.8" r="3.55"/>
<circle cx="537.3" cy="809.3" r="3.55"/>
<circle cx="540.9" cy="810.1" r="3.55"/>
<circle cx="544.7" cy="809.2" r="3.55"/>
<circle cx="547.6" cy="809.9" r="3.55"/>
<circle cx="549.6" cy="809.4" r="3.55"/>
<circle cx="534.4" cy="813.0" r="3.55"/>
<circle cx="538.3" cy="813.1" r="3.55"/>
<circle cx="541.5" cy="812.7" r="3.55"/>
<circle cx="544.4" cy="812.6" r="3.55"/>
<circle cx="534.4" cy="815.6" r="3.55"/>
<circle cx="537.2" cy="814.9" r="3.55"/>
<circle cx="541.4" cy="814.7" r="3.55"/>
<circle cx="543.3" cy="814.8" r="3.55"/>
<circle cx="535.6" cy="817.9" r="3.55"/>
<circle cx="537.2" cy="819.0" r="3.55"/>
<circle cx="540.4" cy="819.0" r="3.55"/>
<circle cx="535.3" cy="822.0" r="3.55"/>
<circle cx="538.7" cy="821.6" r="3.55"/>
<circle cx="541.5" cy="820.7" r="3.55"/>
<circle cx="535.4" cy="824.5" r="3.55"/>
<circle cx="538.3" cy="823.8" r="3.55"/>
<circle cx="541.4" cy="825.1" r="3.55"/>
<circle cx="531.3" cy="827.2" r="3.55"/>
<circle cx="535.1" cy="828.0" r="3.55"/>
<circle cx="537.6" cy="826.9" r="3.55"/>
<circle cx="540.6" cy="827.6" r="3.55"/>
<circle cx="532.4" cy="830.3" r="3.55"/>
<circle cx="534.8" cy="830.3" r="3.55"/>
<circle cx="537.8" cy="830.3" r="3.55"/>
<circle cx="531.3" cy="833.5" r="3.55"/>
<circle cx="535.8" cy="833.3" r="3.55"/>
<circle cx="538.4" cy="832.9" r="3.55"/>
<circle cx="532.3" cy="836.9" r="3.55"/>
<circle cx="535.3" cy="836.5" r="3.55"/>
<circle cx="538.0" cy="836.7" r="3.55"/>
<circle cx="529.6" cy="838.9" r="3.55"/>
<circle cx="531.4" cy="839.8" r="3.55"/>
<circle cx="535.7" cy="839.5" r="3.55"/>
<circle cx="537.9" cy="839.8" r="3.55"/>
<circle cx="528.5" cy="842.1" r="3.55"/>
<circle cx="531.5" cy="842.6" r="3.55"/>
<circle cx="534.7" cy="842.0" r="3.55"/>
<circle cx="529.3" cy="846.2" r="3.55"/>
<circle cx="531.7" cy="845.8" r="3.55"/>
<circle cx="534.9" cy="846.0" r="3.55"/>
<circle cx="529.1" cy="848.1" r="3.55"/>
<circle cx="531.5" cy="847.7" r="3.55"/>
<circle cx="526.0" cy="851.3" r="3.55"/>
<circle cx="528.5" cy="851.2" r="3.55"/>
<circle cx="525.7" cy="854.9" r="3.55"/>
<circle cx="528.4" cy="855.2" r="3.55"/>
<circle cx="526.0" cy="857.6" r="3.55"/>
<circle cx="528.9" cy="858.0" r="3.55"/>
<circle cx="526.5" cy="860.5" r="3.55"/>
<circle cx="529.0" cy="860.8" r="3.55"/>
<circle cx="526.6" cy="863.3" r="3.55"/>
<circle cx="526.4" cy="867.2" r="3.55"/>
<circle cx="525.9" cy="869.0" r="3.55"/>
<circle cx="525.8" cy="885.5" r="3.55"/>
<circle cx="525.8" cy="895.4" r="3.55"/>
<circle cx="525.8" cy="901.2" r="3.55"/>
<circle cx="525.8" cy="908.8" r="3.55"/>
<circle cx="525.5" cy="915.2" r="3.55"/>
<circle cx="525.8" cy="921.0" r="3.55"/>
<circle cx="525.3" cy="925.6" r="3.55"/>
<circle cx="525.8" cy="931.4" r="3.55"/>
<circle cx="525.0" cy="936.1" r="3.55"/>
<circle cx="525.5" cy="940.7" r="3.55"/>
<circle cx="524.8" cy="946.0" r="3.55"/>
<circle cx="523.5" cy="864.0" r="3.55"/>
<circle cx="522.3" cy="869.8" r="3.55"/>
<circle cx="524.7" cy="874.5" r="3.55"/>
<circle cx="515.3" cy="874.5" r="3.55"/>
<circle cx="514.2" cy="880.2" r="3.55"/>
<circle cx="513.6" cy="884.9" r="3.55"/>
<circle cx="517.7" cy="887.8" r="3.55"/>
<circle cx="527.0" cy="867.5" r="3.55"/>
<circle cx="525.5" cy="879.5" r="3.55"/>
<circle cx="521.0" cy="880.5" r="3.55"/>
<circle cx="506.0" cy="889.6" r="3.55"/>
<circle cx="500.0" cy="894.2" r="3.55"/>
<circle cx="514.8" cy="893.6" r="3.55"/>
<circle cx="511.9" cy="898.2" r="3.55"/>
<circle cx="517.1" cy="897.7" r="3.55"/>
<circle cx="505.5" cy="900.6" r="3.55"/>
<circle cx="509.5" cy="905.2" r="3.55"/>
<circle cx="518.3" cy="906.4" r="3.55"/>
<circle cx="503.1" cy="910.5" r="3.55"/>
<circle cx="507.8" cy="911.7" r="3.55"/>
<circle cx="511.9" cy="914.0" r="3.55"/>
<circle cx="521.7" cy="912.8" r="3.55"/>
<circle cx="501.4" cy="916.9" r="3.55"/>
<circle cx="516.5" cy="917.5" r="3.55"/>
<circle cx="504.3" cy="922.1" r="3.55"/>
<circle cx="510.1" cy="922.1" r="3.55"/>
<circle cx="518.3" cy="926.8" r="3.55"/>
<circle cx="509.5" cy="927.9" r="3.55"/>
<circle cx="501.4" cy="930.8" r="3.55"/>
<circle cx="511.3" cy="930.8" r="3.55"/>
<circle cx="499.1" cy="934.9" r="3.55"/>
<circle cx="507.2" cy="937.8" r="3.55"/>
<circle cx="499.7" cy="938.4" r="3.55"/>
<circle cx="513.5" cy="909.5" r="3.55"/>
<circle cx="506.5" cy="896.0" r="3.55"/>
</g>
</g>
</svg>
</body></html>
